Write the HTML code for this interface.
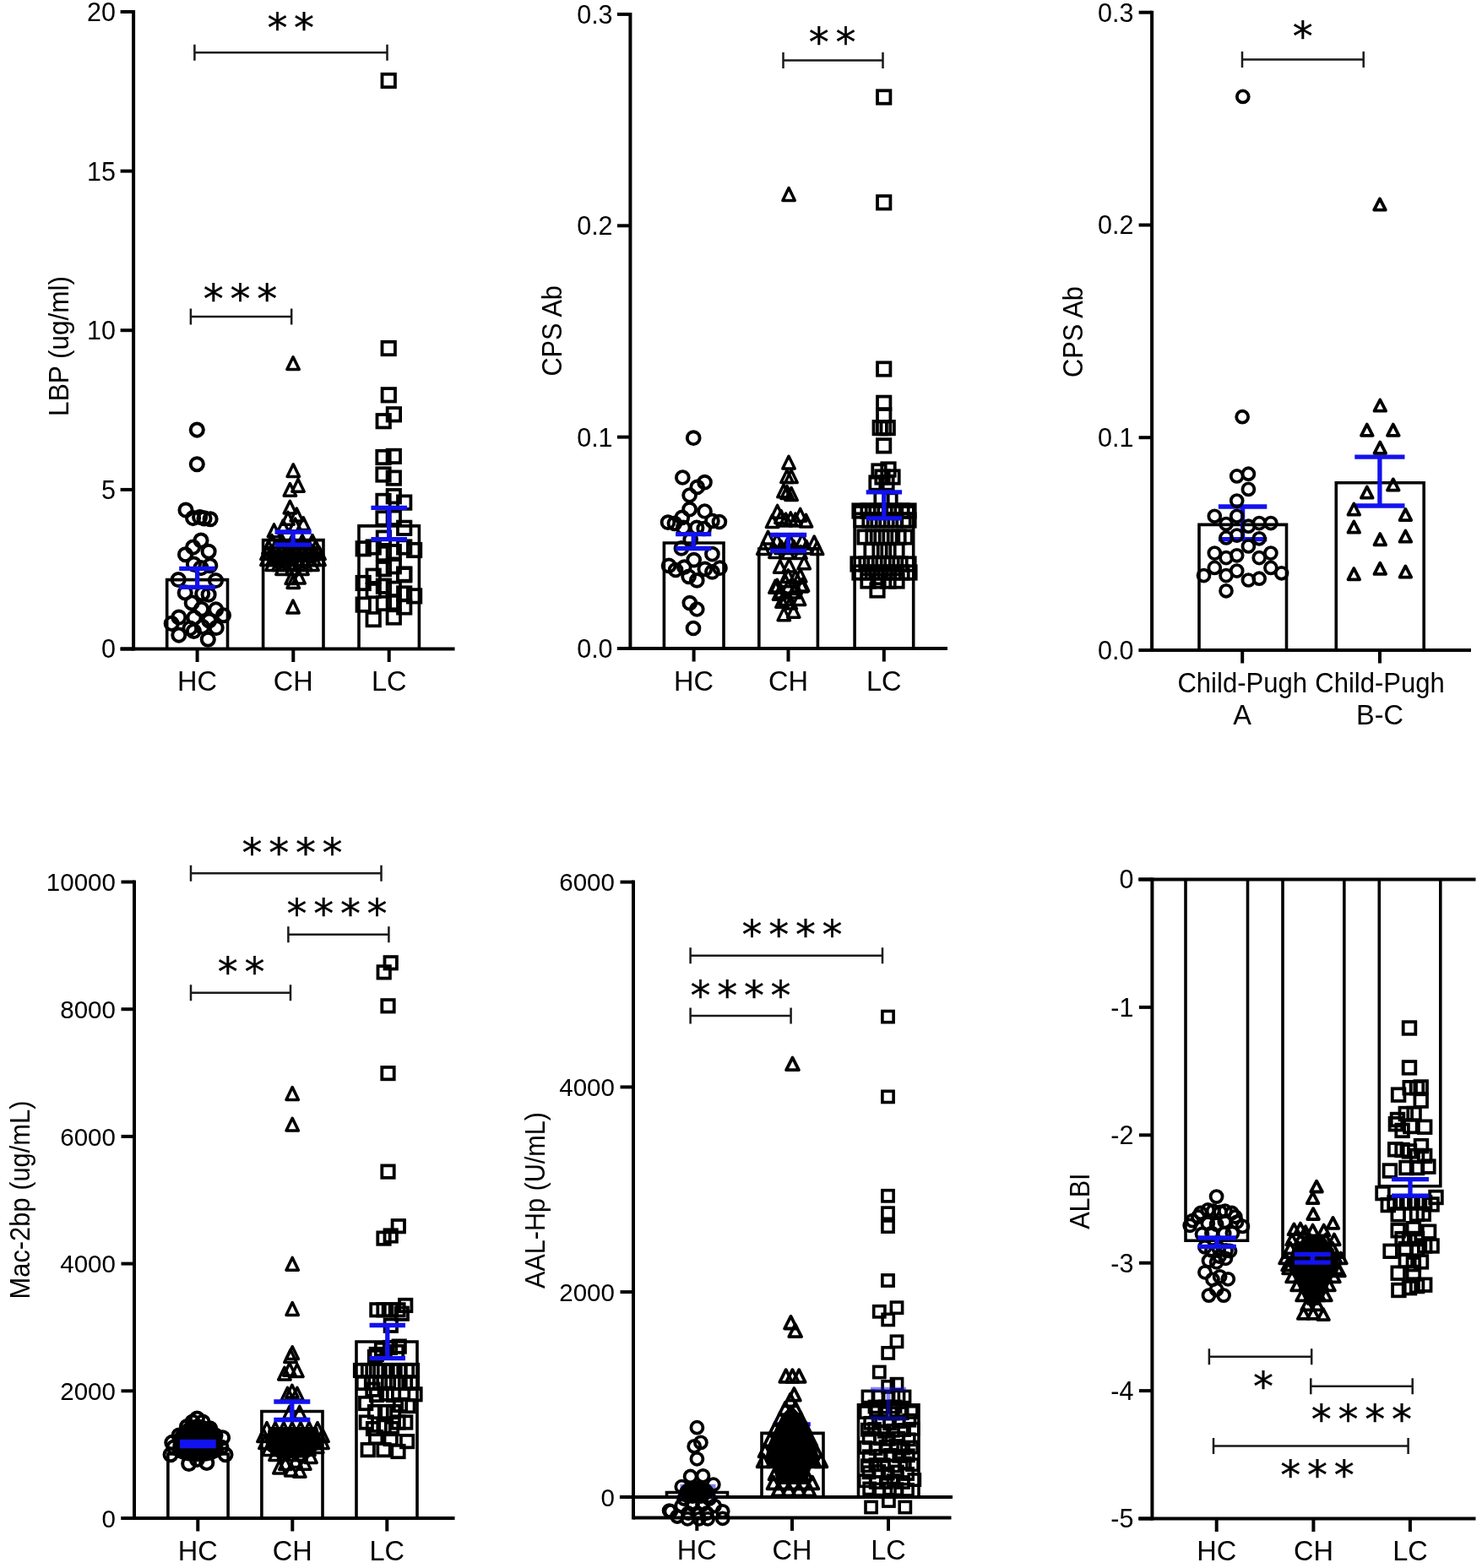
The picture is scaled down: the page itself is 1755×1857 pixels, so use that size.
<!DOCTYPE html>
<html><head><meta charset="utf-8"><title>Figure</title>
<style>
html,body{margin:0;padding:0;background:#fff;}
svg{display:block;}
text{font-family:'Liberation Sans', Arial, sans-serif;fill:#000;}
.mk circle,.mk path,.mk rect{fill:none;stroke:#000;stroke-linejoin:round;}
.mk rect{stroke-linejoin:miter;}
.st{stroke:#000;stroke-width:0.3;}
</style></head><body>
<svg xmlns="http://www.w3.org/2000/svg" width="1755" height="1857" viewBox="0 0 1755 1857">
<rect width="1755" height="1857" fill="#fff"/>
<path d="M158.1 12.0V770.5" stroke="#000" stroke-width="4.0" fill="none"/>
<line x1="142.6" y1="768.5" x2="158.1" y2="768.5" stroke="#000" stroke-width="4.0" stroke-linecap="butt"/>
<text x="136.9" y="779.4" font-size="30.5" text-anchor="end">0</text>
<line x1="142.6" y1="579.9" x2="158.1" y2="579.9" stroke="#000" stroke-width="4.0" stroke-linecap="butt"/>
<text x="136.9" y="590.8" font-size="30.5" text-anchor="end">5</text>
<line x1="142.6" y1="391.2" x2="158.1" y2="391.2" stroke="#000" stroke-width="4.0" stroke-linecap="butt"/>
<text x="136.9" y="402.2" font-size="30.5" text-anchor="end">10</text>
<line x1="142.6" y1="202.6" x2="158.1" y2="202.6" stroke="#000" stroke-width="4.0" stroke-linecap="butt"/>
<text x="136.9" y="213.5" font-size="30.5" text-anchor="end">15</text>
<line x1="142.6" y1="14.0" x2="158.1" y2="14.0" stroke="#000" stroke-width="4.0" stroke-linecap="butt"/>
<text x="136.9" y="24.9" font-size="30.5" text-anchor="end">20</text>
<line x1="142.6" y1="768.5" x2="538.5" y2="768.5" stroke="#000" stroke-width="4.0" stroke-linecap="butt"/>
<path d="M197.7 768.5V686.6H269.5V768.5" stroke="#000" stroke-width="3.6" fill="none" stroke-linejoin="miter"/>
<path d="M311.6 768.5V639.6H383.0V768.5" stroke="#000" stroke-width="3.6" fill="none" stroke-linejoin="miter"/>
<path d="M425.0 768.5V622.9H496.4V768.5" stroke="#000" stroke-width="3.6" fill="none" stroke-linejoin="miter"/>
<line x1="233.6" y1="768.5" x2="233.6" y2="784.0" stroke="#000" stroke-width="4.0" stroke-linecap="butt"/>
<text x="233.6" y="818.0" font-size="32.5" text-anchor="middle">HC</text>
<line x1="347.3" y1="768.5" x2="347.3" y2="784.0" stroke="#000" stroke-width="4.0" stroke-linecap="butt"/>
<text x="347.3" y="818.0" font-size="32.5" text-anchor="middle">CH</text>
<line x1="460.7" y1="768.5" x2="460.7" y2="784.0" stroke="#000" stroke-width="4.0" stroke-linecap="butt"/>
<text x="460.7" y="818.0" font-size="32.5" text-anchor="middle">LC</text>
<text x="80.6" y="409.9" font-size="32.5" text-anchor="middle" transform="rotate(-90 80.6 409.9)" textLength="166" lengthAdjust="spacingAndGlyphs">LBP (ug/ml)</text>
<path d="M230.4 52.7V71.7M230.4 62.2H458.5M458.5 52.7V71.7" stroke="#1a1a1a" stroke-width="2.5" fill="none"/>
<text x="348.1" y="49.5" font-size="48" text-anchor="middle" style="font-family:'DejaVu Sans', sans-serif" letter-spacing="7.7" class="st">**</text>
<path d="M225.9 365.4V384.4M225.9 374.9H345.2M345.2 365.4V384.4" stroke="#1a1a1a" stroke-width="2.5" fill="none"/>
<text x="288.4" y="370.5" font-size="48" text-anchor="middle" style="font-family:'DejaVu Sans', sans-serif" letter-spacing="7.7" class="st">***</text>
<path d="M746.4 14.9V770.0" stroke="#000" stroke-width="4.0" fill="none"/>
<line x1="730.9" y1="768.0" x2="746.4" y2="768.0" stroke="#000" stroke-width="4.0" stroke-linecap="butt"/>
<text x="725.6" y="778.9" font-size="30.5" text-anchor="end">0.0</text>
<line x1="730.9" y1="517.6" x2="746.4" y2="517.6" stroke="#000" stroke-width="4.0" stroke-linecap="butt"/>
<text x="725.6" y="528.6" font-size="30.5" text-anchor="end">0.1</text>
<line x1="730.9" y1="267.3" x2="746.4" y2="267.3" stroke="#000" stroke-width="4.0" stroke-linecap="butt"/>
<text x="725.6" y="278.2" font-size="30.5" text-anchor="end">0.2</text>
<line x1="730.9" y1="16.9" x2="746.4" y2="16.9" stroke="#000" stroke-width="4.0" stroke-linecap="butt"/>
<text x="725.6" y="27.8" font-size="30.5" text-anchor="end">0.3</text>
<line x1="730.9" y1="768.0" x2="1122.0" y2="768.0" stroke="#000" stroke-width="4.0" stroke-linecap="butt"/>
<path d="M786.4 768.0V643.0H857.0V768.0" stroke="#000" stroke-width="3.6" fill="none" stroke-linejoin="miter"/>
<path d="M898.8 768.0V650.0H968.4V768.0" stroke="#000" stroke-width="3.6" fill="none" stroke-linejoin="miter"/>
<path d="M1012.1 768.0V600.2H1081.7V768.0" stroke="#000" stroke-width="3.6" fill="none" stroke-linejoin="miter"/>
<line x1="821.6" y1="768.0" x2="821.6" y2="783.5" stroke="#000" stroke-width="4.0" stroke-linecap="butt"/>
<text x="821.6" y="817.5" font-size="32.5" text-anchor="middle">HC</text>
<line x1="933.5" y1="768.0" x2="933.5" y2="783.5" stroke="#000" stroke-width="4.0" stroke-linecap="butt"/>
<text x="933.5" y="817.5" font-size="32.5" text-anchor="middle">CH</text>
<line x1="1046.8" y1="768.0" x2="1046.8" y2="783.5" stroke="#000" stroke-width="4.0" stroke-linecap="butt"/>
<text x="1046.8" y="817.5" font-size="32.5" text-anchor="middle">LC</text>
<text x="664.7" y="391.8" font-size="32.5" text-anchor="middle" transform="rotate(-90 664.7 391.8)" textLength="107.5" lengthAdjust="spacingAndGlyphs">CPS Ab</text>
<path d="M927.5 62.0V81.0M927.5 71.5H1045.5M1045.5 62.0V81.0" stroke="#1a1a1a" stroke-width="2.5" fill="none"/>
<text x="989.4" y="67.0" font-size="48" text-anchor="middle" style="font-family:'DejaVu Sans', sans-serif" letter-spacing="7.7" class="st">**</text>
<path d="M1364.1 12.7V772.0" stroke="#000" stroke-width="4.0" fill="none"/>
<line x1="1348.6" y1="770.0" x2="1364.1" y2="770.0" stroke="#000" stroke-width="4.0" stroke-linecap="butt"/>
<text x="1342.4" y="780.9" font-size="30.5" text-anchor="end">0.0</text>
<line x1="1348.6" y1="518.2" x2="1364.1" y2="518.2" stroke="#000" stroke-width="4.0" stroke-linecap="butt"/>
<text x="1342.4" y="529.2" font-size="30.5" text-anchor="end">0.1</text>
<line x1="1348.6" y1="266.5" x2="1364.1" y2="266.5" stroke="#000" stroke-width="4.0" stroke-linecap="butt"/>
<text x="1342.4" y="277.4" font-size="30.5" text-anchor="end">0.2</text>
<line x1="1348.6" y1="14.7" x2="1364.1" y2="14.7" stroke="#000" stroke-width="4.0" stroke-linecap="butt"/>
<text x="1342.4" y="25.6" font-size="30.5" text-anchor="end">0.3</text>
<line x1="1348.6" y1="770.0" x2="1742.0" y2="770.0" stroke="#000" stroke-width="4.0" stroke-linecap="butt"/>
<path d="M1420.0 770.0V621.4H1523.5V770.0" stroke="#000" stroke-width="3.6" fill="none" stroke-linejoin="miter"/>
<path d="M1582.3 770.0V571.7H1686.2V770.0" stroke="#000" stroke-width="3.6" fill="none" stroke-linejoin="miter"/>
<line x1="1471.2" y1="770.0" x2="1471.2" y2="785.5" stroke="#000" stroke-width="4.0" stroke-linecap="butt"/>
<text x="1471.2" y="819.5" font-size="32.5" text-anchor="middle" textLength="153.5" lengthAdjust="spacingAndGlyphs">Child-Pugh</text>
<text x="1471.2" y="858.0" font-size="32.5" text-anchor="middle">A</text>
<line x1="1634.0" y1="770.0" x2="1634.0" y2="785.5" stroke="#000" stroke-width="4.0" stroke-linecap="butt"/>
<text x="1634.0" y="819.5" font-size="32.5" text-anchor="middle" textLength="153.5" lengthAdjust="spacingAndGlyphs">Child-Pugh</text>
<text x="1634.0" y="858.0" font-size="32.5" text-anchor="middle">B-C</text>
<text x="1282.3" y="393.1" font-size="32.5" text-anchor="middle" transform="rotate(-90 1282.3 393.1)" textLength="108" lengthAdjust="spacingAndGlyphs">CPS Ab</text>
<path d="M1471.0 60.9V79.9M1471.0 70.4H1614.7M1614.7 60.9V79.9" stroke="#1a1a1a" stroke-width="2.5" fill="none"/>
<text x="1546.6" y="59.5" font-size="48" text-anchor="middle" style="font-family:'DejaVu Sans', sans-serif" letter-spacing="7.7" class="st">*</text>
<path d="M159.0 1042.5V1800.0" stroke="#000" stroke-width="4.0" fill="none"/>
<line x1="143.5" y1="1798.0" x2="159.0" y2="1798.0" stroke="#000" stroke-width="4.0" stroke-linecap="butt"/>
<text x="136.9" y="1808.6" font-size="29.5" text-anchor="end">0</text>
<line x1="143.5" y1="1647.3" x2="159.0" y2="1647.3" stroke="#000" stroke-width="4.0" stroke-linecap="butt"/>
<text x="136.9" y="1657.9" font-size="29.5" text-anchor="end">2000</text>
<line x1="143.5" y1="1496.6" x2="159.0" y2="1496.6" stroke="#000" stroke-width="4.0" stroke-linecap="butt"/>
<text x="136.9" y="1507.2" font-size="29.5" text-anchor="end">4000</text>
<line x1="143.5" y1="1345.9" x2="159.0" y2="1345.9" stroke="#000" stroke-width="4.0" stroke-linecap="butt"/>
<text x="136.9" y="1356.5" font-size="29.5" text-anchor="end">6000</text>
<line x1="143.5" y1="1195.2" x2="159.0" y2="1195.2" stroke="#000" stroke-width="4.0" stroke-linecap="butt"/>
<text x="136.9" y="1205.8" font-size="29.5" text-anchor="end">8000</text>
<line x1="143.5" y1="1044.5" x2="159.0" y2="1044.5" stroke="#000" stroke-width="4.0" stroke-linecap="butt"/>
<text x="136.9" y="1055.1" font-size="29.5" text-anchor="end">10000</text>
<line x1="143.5" y1="1798.0" x2="538.5" y2="1798.0" stroke="#000" stroke-width="4.0" stroke-linecap="butt"/>
<path d="M198.9 1798.0V1722.0H270.1V1798.0" stroke="#000" stroke-width="3.6" fill="none" stroke-linejoin="miter"/>
<path d="M309.9 1798.0V1671.5H382.0V1798.0" stroke="#000" stroke-width="3.6" fill="none" stroke-linejoin="miter"/>
<path d="M422.0 1798.0V1589.0H494.0V1798.0" stroke="#000" stroke-width="3.6" fill="none" stroke-linejoin="miter"/>
<line x1="234.3" y1="1798.0" x2="234.3" y2="1813.5" stroke="#000" stroke-width="4.0" stroke-linecap="butt"/>
<text x="234.3" y="1847.5" font-size="32.5" text-anchor="middle">HC</text>
<line x1="346.3" y1="1798.0" x2="346.3" y2="1813.5" stroke="#000" stroke-width="4.0" stroke-linecap="butt"/>
<text x="346.3" y="1847.5" font-size="32.5" text-anchor="middle">CH</text>
<line x1="458.3" y1="1798.0" x2="458.3" y2="1813.5" stroke="#000" stroke-width="4.0" stroke-linecap="butt"/>
<text x="458.3" y="1847.5" font-size="32.5" text-anchor="middle">LC</text>
<text x="35.4" y="1421.0" font-size="32.5" text-anchor="middle" transform="rotate(-90 35.4 1421.0)" textLength="235" lengthAdjust="spacingAndGlyphs">Mac-2bp (ug/mL)</text>
<path d="M226.0 1024.8V1043.8M226.0 1034.3H451.5M451.5 1024.8V1043.8" stroke="#1a1a1a" stroke-width="2.5" fill="none"/>
<text x="349.9" y="1027.0" font-size="48" text-anchor="middle" style="font-family:'DejaVu Sans', sans-serif" letter-spacing="7.7" class="st">****</text>
<path d="M341.4 1097.3V1116.3M341.4 1106.8H460.4M460.4 1097.3V1116.3" stroke="#1a1a1a" stroke-width="2.5" fill="none"/>
<text x="402.9" y="1099.0" font-size="48" text-anchor="middle" style="font-family:'DejaVu Sans', sans-serif" letter-spacing="7.7" class="st">****</text>
<path d="M226.0 1166.2V1185.2M226.0 1175.7H344.0M344.0 1166.2V1185.2" stroke="#1a1a1a" stroke-width="2.5" fill="none"/>
<text x="289.5" y="1167.5" font-size="48" text-anchor="middle" style="font-family:'DejaVu Sans', sans-serif" letter-spacing="7.7" class="st">**</text>
<path d="M750.0 1042.6V1799.4" stroke="#000" stroke-width="4.0" fill="none"/>
<line x1="734.5" y1="1772.9" x2="750.0" y2="1772.9" stroke="#000" stroke-width="4.0" stroke-linecap="butt"/>
<text x="727.9" y="1783.5" font-size="29.5" text-anchor="end">0</text>
<line x1="734.5" y1="1530.1" x2="750.0" y2="1530.1" stroke="#000" stroke-width="4.0" stroke-linecap="butt"/>
<text x="727.9" y="1540.7" font-size="29.5" text-anchor="end">2000</text>
<line x1="734.5" y1="1287.4" x2="750.0" y2="1287.4" stroke="#000" stroke-width="4.0" stroke-linecap="butt"/>
<text x="727.9" y="1297.9" font-size="29.5" text-anchor="end">4000</text>
<line x1="734.5" y1="1044.6" x2="750.0" y2="1044.6" stroke="#000" stroke-width="4.0" stroke-linecap="butt"/>
<text x="727.9" y="1055.2" font-size="29.5" text-anchor="end">6000</text>
<line x1="733.9" y1="1772.9" x2="1128.0" y2="1772.9" stroke="#000" stroke-width="4.0" stroke-linecap="butt"/>
<line x1="750.0" y1="1797.4" x2="1126.5" y2="1797.4" stroke="#000" stroke-width="4.0" stroke-linecap="butt"/>
<path d="M789.5 1772.9V1767.5H861.5V1772.9" stroke="#000" stroke-width="3.6" fill="none" stroke-linejoin="miter"/>
<path d="M902.0 1772.9V1697.4H975.0V1772.9" stroke="#000" stroke-width="3.6" fill="none" stroke-linejoin="miter"/>
<path d="M1016.5 1772.9V1663.9H1088.0V1772.9" stroke="#000" stroke-width="3.6" fill="none" stroke-linejoin="miter"/>
<line x1="825.3" y1="1797.4" x2="825.3" y2="1812.9" stroke="#000" stroke-width="4.0" stroke-linecap="butt"/>
<text x="825.3" y="1846.9" font-size="32.5" text-anchor="middle">HC</text>
<line x1="938.0" y1="1797.4" x2="938.0" y2="1812.9" stroke="#000" stroke-width="4.0" stroke-linecap="butt"/>
<text x="938.0" y="1846.9" font-size="32.5" text-anchor="middle">CH</text>
<line x1="1052.0" y1="1797.4" x2="1052.0" y2="1812.9" stroke="#000" stroke-width="4.0" stroke-linecap="butt"/>
<text x="1052.0" y="1846.9" font-size="32.5" text-anchor="middle">LC</text>
<text x="644.9" y="1421.5" font-size="32.5" text-anchor="middle" transform="rotate(-90 644.9 1421.5)" textLength="209" lengthAdjust="spacingAndGlyphs">AAL-Hp (U/mL)</text>
<path d="M817.6 1122.2V1141.2M817.6 1131.7H1045.0M1045.0 1122.2V1141.2" stroke="#1a1a1a" stroke-width="2.5" fill="none"/>
<text x="941.9" y="1124.0" font-size="48" text-anchor="middle" style="font-family:'DejaVu Sans', sans-serif" letter-spacing="7.7" class="st">****</text>
<path d="M817.6 1193.5V1212.5M817.6 1203.0H936.6M936.6 1193.5V1212.5" stroke="#1a1a1a" stroke-width="2.5" fill="none"/>
<text x="880.9" y="1196.0" font-size="48" text-anchor="middle" style="font-family:'DejaVu Sans', sans-serif" letter-spacing="7.7" class="st">****</text>
<path d="M1364.4 1039.5V1800.5" stroke="#000" stroke-width="4.0" fill="none"/>
<line x1="1348.9" y1="1041.5" x2="1364.4" y2="1041.5" stroke="#000" stroke-width="4.0" stroke-linecap="butt"/>
<text x="1342.4" y="1052.4" font-size="30.5" text-anchor="end">0</text>
<line x1="1348.9" y1="1192.9" x2="1364.4" y2="1192.9" stroke="#000" stroke-width="4.0" stroke-linecap="butt"/>
<text x="1342.4" y="1203.8" font-size="30.5" text-anchor="end">-1</text>
<line x1="1348.9" y1="1344.3" x2="1364.4" y2="1344.3" stroke="#000" stroke-width="4.0" stroke-linecap="butt"/>
<text x="1342.4" y="1355.2" font-size="30.5" text-anchor="end">-2</text>
<line x1="1348.9" y1="1495.7" x2="1364.4" y2="1495.7" stroke="#000" stroke-width="4.0" stroke-linecap="butt"/>
<text x="1342.4" y="1506.6" font-size="30.5" text-anchor="end">-3</text>
<line x1="1348.9" y1="1647.1" x2="1364.4" y2="1647.1" stroke="#000" stroke-width="4.0" stroke-linecap="butt"/>
<text x="1342.4" y="1658.0" font-size="30.5" text-anchor="end">-4</text>
<line x1="1348.9" y1="1798.5" x2="1364.4" y2="1798.5" stroke="#000" stroke-width="4.0" stroke-linecap="butt"/>
<text x="1342.4" y="1809.4" font-size="30.5" text-anchor="end">-5</text>
<line x1="1348.1" y1="1041.5" x2="1747.5" y2="1041.5" stroke="#000" stroke-width="4.0" stroke-linecap="butt"/>
<line x1="1348.1" y1="1798.5" x2="1747.5" y2="1798.5" stroke="#000" stroke-width="4.0" stroke-linecap="butt"/>
<g class="mk">
<circle cx="233.3" cy="509.1" r="7.55" stroke-width="4.0"/>
<circle cx="233.3" cy="549.7" r="7.55" stroke-width="4.0"/>
<circle cx="220.0" cy="604.0" r="7.55" stroke-width="4.0"/>
<circle cx="228.6" cy="613.6" r="7.55" stroke-width="4.0"/>
<circle cx="236.6" cy="612.5" r="7.55" stroke-width="4.0"/>
<circle cx="242.0" cy="613.9" r="7.55" stroke-width="4.0"/>
<circle cx="249.1" cy="614.8" r="7.55" stroke-width="4.0"/>
<circle cx="238.0" cy="640.1" r="7.55" stroke-width="4.0"/>
<circle cx="228.6" cy="648.1" r="7.55" stroke-width="4.0"/>
<circle cx="247.1" cy="653.2" r="7.55" stroke-width="4.0"/>
<circle cx="219.5" cy="656.7" r="7.55" stroke-width="4.0"/>
<circle cx="229.4" cy="668.1" r="7.55" stroke-width="4.0"/>
<circle cx="248.8" cy="669.8" r="7.55" stroke-width="4.0"/>
<circle cx="238.0" cy="672.6" r="7.55" stroke-width="4.0"/>
<circle cx="211.2" cy="686.5" r="7.55" stroke-width="4.0"/>
<circle cx="255.5" cy="687.5" r="7.55" stroke-width="4.0"/>
<circle cx="219.2" cy="701.9" r="7.55" stroke-width="4.0"/>
<circle cx="247.1" cy="704.2" r="7.55" stroke-width="4.0"/>
<circle cx="239.7" cy="703.0" r="7.55" stroke-width="4.0"/>
<circle cx="227.2" cy="713.9" r="7.55" stroke-width="4.0"/>
<circle cx="238.6" cy="721.3" r="7.55" stroke-width="4.0"/>
<circle cx="255.7" cy="721.9" r="7.55" stroke-width="4.0"/>
<circle cx="264.5" cy="728.7" r="7.55" stroke-width="4.0"/>
<circle cx="211.8" cy="731.0" r="7.55" stroke-width="4.0"/>
<circle cx="230.0" cy="731.5" r="7.55" stroke-width="4.0"/>
<circle cx="247.7" cy="735.0" r="7.55" stroke-width="4.0"/>
<circle cx="203.2" cy="738.4" r="7.55" stroke-width="4.0"/>
<circle cx="229.4" cy="747.5" r="7.55" stroke-width="4.0"/>
<circle cx="256.2" cy="743.5" r="7.55" stroke-width="4.0"/>
<circle cx="211.8" cy="752.1" r="7.55" stroke-width="4.0"/>
<circle cx="246.3" cy="757.2" r="7.55" stroke-width="4.0"/>
<circle cx="239.7" cy="742.4" r="7.55" stroke-width="4.0"/>
<circle cx="224.9" cy="744.1" r="7.55" stroke-width="4.0"/>
</g>
<g class="mk">
<path d="M347.1 422.7L354.3 437.5L339.9 437.5Z" stroke-width="3.5"/>
<path d="M347.3 549.7L354.5 564.5L340.1 564.5Z" stroke-width="3.5"/>
<path d="M353.0 567.4L360.2 582.2L345.8 582.2Z" stroke-width="3.5"/>
<path d="M343.4 572.5L350.6 587.3L336.2 587.3Z" stroke-width="3.5"/>
<path d="M343.4 593.3L350.6 608.1L336.2 608.1Z" stroke-width="3.5"/>
<path d="M351.3 602.1L358.5 616.9L344.1 616.9Z" stroke-width="3.5"/>
<path d="M359.3 612.7L366.5 627.5L352.1 627.5Z" stroke-width="3.5"/>
<path d="M341.0 606.4L348.2 621.2L333.8 621.2Z" stroke-width="3.5"/>
<path d="M335.3 616.1L342.5 630.9L328.1 630.9Z" stroke-width="3.5"/>
<path d="M324.5 620.9L331.7 635.7L317.3 635.7Z" stroke-width="3.5"/>
<path d="M349.6 614.1L356.8 628.9L342.4 628.9Z" stroke-width="3.5"/>
<path d="M345.3 676.7L352.5 691.5L338.1 691.5Z" stroke-width="3.5"/>
<path d="M347.3 681.6L354.5 696.4L340.1 696.4Z" stroke-width="3.5"/>
<path d="M354.1 676.1L361.3 690.9L346.9 690.9Z" stroke-width="3.5"/>
<path d="M347.0 711.1L354.2 725.9L339.8 725.9Z" stroke-width="3.5"/>
<path d="M322.0 633.6L329.2 648.4L314.8 648.4Z" stroke-width="3.5"/>
<path d="M334.0 633.6L341.2 648.4L326.8 648.4Z" stroke-width="3.5"/>
<path d="M346.0 633.6L353.2 648.4L338.8 648.4Z" stroke-width="3.5"/>
<path d="M358.0 633.6L365.2 648.4L350.8 648.4Z" stroke-width="3.5"/>
<path d="M370.0 633.6L377.2 648.4L362.8 648.4Z" stroke-width="3.5"/>
<path d="M318.0 640.6L325.2 655.4L310.8 655.4Z" stroke-width="3.5"/>
<path d="M326.0 640.6L333.2 655.4L318.8 655.4Z" stroke-width="3.5"/>
<path d="M334.0 640.6L341.2 655.4L326.8 655.4Z" stroke-width="3.5"/>
<path d="M342.0 640.6L349.2 655.4L334.8 655.4Z" stroke-width="3.5"/>
<path d="M350.0 640.6L357.2 655.4L342.8 655.4Z" stroke-width="3.5"/>
<path d="M358.0 640.6L365.2 655.4L350.8 655.4Z" stroke-width="3.5"/>
<path d="M366.0 640.6L373.2 655.4L358.8 655.4Z" stroke-width="3.5"/>
<path d="M374.0 640.6L381.2 655.4L366.8 655.4Z" stroke-width="3.5"/>
<path d="M316.0 647.6L323.2 662.4L308.8 662.4Z" stroke-width="3.5"/>
<path d="M323.0 647.6L330.2 662.4L315.8 662.4Z" stroke-width="3.5"/>
<path d="M330.0 647.6L337.2 662.4L322.8 662.4Z" stroke-width="3.5"/>
<path d="M337.0 647.6L344.2 662.4L329.8 662.4Z" stroke-width="3.5"/>
<path d="M344.0 647.6L351.2 662.4L336.8 662.4Z" stroke-width="3.5"/>
<path d="M351.0 647.6L358.2 662.4L343.8 662.4Z" stroke-width="3.5"/>
<path d="M358.0 647.6L365.2 662.4L350.8 662.4Z" stroke-width="3.5"/>
<path d="M365.0 647.6L372.2 662.4L357.8 662.4Z" stroke-width="3.5"/>
<path d="M372.0 647.6L379.2 662.4L364.8 662.4Z" stroke-width="3.5"/>
<path d="M378.0 647.6L385.2 662.4L370.8 662.4Z" stroke-width="3.5"/>
<path d="M316.0 654.6L323.2 669.4L308.8 669.4Z" stroke-width="3.5"/>
<path d="M323.0 654.6L330.2 669.4L315.8 669.4Z" stroke-width="3.5"/>
<path d="M330.0 654.6L337.2 669.4L322.8 669.4Z" stroke-width="3.5"/>
<path d="M337.0 654.6L344.2 669.4L329.8 669.4Z" stroke-width="3.5"/>
<path d="M344.0 654.6L351.2 669.4L336.8 669.4Z" stroke-width="3.5"/>
<path d="M351.0 654.6L358.2 669.4L343.8 669.4Z" stroke-width="3.5"/>
<path d="M358.0 654.6L365.2 669.4L350.8 669.4Z" stroke-width="3.5"/>
<path d="M365.0 654.6L372.2 669.4L357.8 669.4Z" stroke-width="3.5"/>
<path d="M372.0 654.6L379.2 669.4L364.8 669.4Z" stroke-width="3.5"/>
<path d="M378.0 654.6L385.2 669.4L370.8 669.4Z" stroke-width="3.5"/>
<path d="M322.0 660.6L329.2 675.4L314.8 675.4Z" stroke-width="3.5"/>
<path d="M330.0 660.6L337.2 675.4L322.8 675.4Z" stroke-width="3.5"/>
<path d="M338.0 660.6L345.2 675.4L330.8 675.4Z" stroke-width="3.5"/>
<path d="M346.0 660.6L353.2 675.4L338.8 675.4Z" stroke-width="3.5"/>
<path d="M354.0 660.6L361.2 675.4L346.8 675.4Z" stroke-width="3.5"/>
<path d="M362.0 660.6L369.2 675.4L354.8 675.4Z" stroke-width="3.5"/>
<path d="M370.0 660.6L377.2 675.4L362.8 675.4Z" stroke-width="3.5"/>
<path d="M334.0 665.6L341.2 680.4L326.8 680.4Z" stroke-width="3.5"/>
<path d="M346.0 665.6L353.2 680.4L338.8 680.4Z" stroke-width="3.5"/>
<path d="M358.0 665.6L365.2 680.4L350.8 680.4Z" stroke-width="3.5"/>
</g>
<g class="mk">
<rect x="452.5" y="87.8" width="15.4" height="15.4" stroke-width="3.8"/>
<rect x="452.5" y="404.8" width="15.4" height="15.4" stroke-width="3.8"/>
<rect x="452.6" y="460.1" width="15.4" height="15.4" stroke-width="3.8"/>
<rect x="458.7" y="483.1" width="15.4" height="15.4" stroke-width="3.8"/>
<rect x="446.5" y="491.0" width="15.4" height="15.4" stroke-width="3.8"/>
<rect x="446.3" y="533.8" width="15.4" height="15.4" stroke-width="3.8"/>
<rect x="458.6" y="532.7" width="15.4" height="15.4" stroke-width="3.8"/>
<rect x="446.3" y="554.3" width="15.4" height="15.4" stroke-width="3.8"/>
<rect x="458.6" y="558.4" width="15.4" height="15.4" stroke-width="3.8"/>
<rect x="458.6" y="580.0" width="15.4" height="15.4" stroke-width="3.8"/>
<rect x="446.3" y="585.7" width="15.4" height="15.4" stroke-width="3.8"/>
<rect x="471.0" y="587.4" width="15.4" height="15.4" stroke-width="3.8"/>
<rect x="446.3" y="606.2" width="15.4" height="15.4" stroke-width="3.8"/>
<rect x="458.6" y="605.6" width="15.4" height="15.4" stroke-width="3.8"/>
<rect x="471.0" y="617.6" width="15.4" height="15.4" stroke-width="3.8"/>
<rect x="446.7" y="629.5" width="15.4" height="15.4" stroke-width="3.8"/>
<rect x="422.5" y="642.1" width="15.4" height="15.4" stroke-width="3.8"/>
<rect x="434.5" y="640.3" width="15.4" height="15.4" stroke-width="3.8"/>
<rect x="482.9" y="643.8" width="15.4" height="15.4" stroke-width="3.8"/>
<rect x="471.0" y="640.3" width="15.4" height="15.4" stroke-width="3.8"/>
<rect x="446.7" y="647.8" width="15.4" height="15.4" stroke-width="3.8"/>
<rect x="458.6" y="646.0" width="15.4" height="15.4" stroke-width="3.8"/>
<rect x="446.7" y="666.0" width="15.4" height="15.4" stroke-width="3.8"/>
<rect x="458.6" y="663.1" width="15.4" height="15.4" stroke-width="3.8"/>
<rect x="434.5" y="674.5" width="15.4" height="15.4" stroke-width="3.8"/>
<rect x="471.0" y="673.1" width="15.4" height="15.4" stroke-width="3.8"/>
<rect x="422.5" y="682.8" width="15.4" height="15.4" stroke-width="3.8"/>
<rect x="446.7" y="686.5" width="15.4" height="15.4" stroke-width="3.8"/>
<rect x="458.6" y="689.6" width="15.4" height="15.4" stroke-width="3.8"/>
<rect x="471.0" y="695.3" width="15.4" height="15.4" stroke-width="3.8"/>
<rect x="482.9" y="698.2" width="15.4" height="15.4" stroke-width="3.8"/>
<rect x="434.5" y="691.9" width="15.4" height="15.4" stroke-width="3.8"/>
<rect x="422.5" y="708.4" width="15.4" height="15.4" stroke-width="3.8"/>
<rect x="434.5" y="725.9" width="15.4" height="15.4" stroke-width="3.8"/>
<rect x="458.6" y="723.3" width="15.4" height="15.4" stroke-width="3.8"/>
<rect x="471.0" y="711.3" width="15.4" height="15.4" stroke-width="3.8"/>
<rect x="446.7" y="706.8" width="15.4" height="15.4" stroke-width="3.8"/>
<rect x="458.6" y="705.9" width="15.4" height="15.4" stroke-width="3.8"/>
<rect x="471.0" y="672.3" width="15.4" height="15.4" stroke-width="3.8"/>
</g>
<path d="M212.2 673.4H255.0M233.6 673.4V695.3M212.2 695.3H255.0" stroke="#1212ee" stroke-width="5.3" fill="none"/>
<path d="M325.5 630.0H368.7M347.1 630.0V645.2M325.5 645.2H368.7" stroke="#1212ee" stroke-width="5.3" fill="none"/>
<path d="M439.4 601.3H482.0M460.7 601.3V638.6M439.4 638.6H482.0" stroke="#1212ee" stroke-width="5.3" fill="none"/>
<g class="mk">
<circle cx="821.2" cy="518.7" r="7.4" stroke-width="3.9"/>
<circle cx="808.3" cy="565.5" r="7.4" stroke-width="3.9"/>
<circle cx="834.5" cy="571.2" r="7.4" stroke-width="3.9"/>
<circle cx="825.7" cy="576.9" r="7.4" stroke-width="3.9"/>
<circle cx="816.6" cy="586.5" r="7.4" stroke-width="3.9"/>
<circle cx="816.6" cy="603.2" r="7.4" stroke-width="3.9"/>
<circle cx="834.5" cy="605.5" r="7.4" stroke-width="3.9"/>
<circle cx="807.8" cy="612.9" r="7.4" stroke-width="3.9"/>
<circle cx="791.0" cy="618.6" r="7.4" stroke-width="3.9"/>
<circle cx="798.9" cy="619.8" r="7.4" stroke-width="3.9"/>
<circle cx="843.4" cy="616.9" r="7.4" stroke-width="3.9"/>
<circle cx="851.9" cy="618.0" r="7.4" stroke-width="3.9"/>
<circle cx="825.1" cy="624.9" r="7.4" stroke-width="3.9"/>
<circle cx="833.7" cy="626.0" r="7.4" stroke-width="3.9"/>
<circle cx="809.2" cy="624.9" r="7.4" stroke-width="3.9"/>
<circle cx="817.7" cy="639.1" r="7.4" stroke-width="3.9"/>
<circle cx="806.9" cy="649.4" r="7.4" stroke-width="3.9"/>
<circle cx="843.4" cy="656.2" r="7.4" stroke-width="3.9"/>
<circle cx="821.7" cy="663.1" r="7.4" stroke-width="3.9"/>
<circle cx="792.1" cy="669.9" r="7.4" stroke-width="3.9"/>
<circle cx="800.1" cy="675.0" r="7.4" stroke-width="3.9"/>
<circle cx="810.3" cy="671.6" r="7.4" stroke-width="3.9"/>
<circle cx="834.8" cy="673.9" r="7.4" stroke-width="3.9"/>
<circle cx="843.4" cy="677.3" r="7.4" stroke-width="3.9"/>
<circle cx="852.5" cy="672.7" r="7.4" stroke-width="3.9"/>
<circle cx="815.6" cy="682.8" r="7.4" stroke-width="3.9"/>
<circle cx="825.3" cy="687.4" r="7.4" stroke-width="3.9"/>
<circle cx="816.8" cy="714.1" r="7.4" stroke-width="3.9"/>
<circle cx="825.3" cy="721.5" r="7.4" stroke-width="3.9"/>
<circle cx="821.0" cy="744.0" r="7.4" stroke-width="3.9"/>
</g>
<g class="mk">
<path d="M934.1 222.6L941.3 237.4L926.9 237.4Z" stroke-width="3.5"/>
<path d="M934.0 540.3L941.2 555.1L926.8 555.1Z" stroke-width="3.5"/>
<path d="M932.0 556.8L939.2 571.6L924.8 571.6Z" stroke-width="3.5"/>
<path d="M937.0 556.8L944.2 571.6L929.8 571.6Z" stroke-width="3.5"/>
<path d="M928.0 573.9L935.2 588.7L920.8 588.7Z" stroke-width="3.5"/>
<path d="M937.1 577.6L944.3 592.4L929.9 592.4Z" stroke-width="3.5"/>
<path d="M932.0 575.6L939.2 590.4L924.8 590.4Z" stroke-width="3.5"/>
<path d="M920.6 598.4L927.8 613.2L913.4 613.2Z" stroke-width="3.5"/>
<path d="M914.6 609.8L921.8 624.6L907.4 624.6Z" stroke-width="3.5"/>
<path d="M947.7 602.4L954.9 617.2L940.5 617.2Z" stroke-width="3.5"/>
<path d="M954.5 609.2L961.7 624.0L947.3 624.0Z" stroke-width="3.5"/>
<path d="M930.6 608.1L937.8 622.9L923.4 622.9Z" stroke-width="3.5"/>
<path d="M936.3 606.9L943.5 621.7L929.1 621.7Z" stroke-width="3.5"/>
<path d="M942.0 608.1L949.2 622.9L934.8 622.9Z" stroke-width="3.5"/>
<path d="M925.0 604.6L932.2 619.4L917.8 619.4Z" stroke-width="3.5"/>
<path d="M909.5 629.3L916.7 644.1L902.3 644.1Z" stroke-width="3.5"/>
<path d="M903.8 641.8L911.0 656.6L896.6 656.6Z" stroke-width="3.5"/>
<path d="M964.2 635.0L971.4 649.8L957.0 649.8Z" stroke-width="3.5"/>
<path d="M967.6 641.8L974.8 656.6L960.4 656.6Z" stroke-width="3.5"/>
<path d="M920.0 632.6L927.2 647.4L912.8 647.4Z" stroke-width="3.5"/>
<path d="M935.0 632.6L942.2 647.4L927.8 647.4Z" stroke-width="3.5"/>
<path d="M950.0 632.6L957.2 647.4L942.8 647.4Z" stroke-width="3.5"/>
<path d="M925.0 640.6L932.2 655.4L917.8 655.4Z" stroke-width="3.5"/>
<path d="M940.0 640.6L947.2 655.4L932.8 655.4Z" stroke-width="3.5"/>
<path d="M955.0 640.6L962.2 655.4L947.8 655.4Z" stroke-width="3.5"/>
<path d="M918.0 645.6L925.2 660.4L910.8 660.4Z" stroke-width="3.5"/>
<path d="M933.0 646.6L940.2 661.4L925.8 661.4Z" stroke-width="3.5"/>
<path d="M948.0 646.6L955.2 661.4L940.8 661.4Z" stroke-width="3.5"/>
<path d="M952.2 658.9L959.4 673.7L945.0 673.7Z" stroke-width="3.5"/>
<path d="M923.7 663.4L930.9 678.2L916.5 678.2Z" stroke-width="3.5"/>
<path d="M934.6 662.3L941.8 677.1L927.4 677.1Z" stroke-width="3.5"/>
<path d="M947.7 674.3L954.9 689.1L940.5 689.1Z" stroke-width="3.5"/>
<path d="M933.4 674.8L940.6 689.6L926.2 689.6Z" stroke-width="3.5"/>
<path d="M920.3 686.2L927.5 701.0L913.1 701.0Z" stroke-width="3.5"/>
<path d="M949.4 686.2L956.6 701.0L942.2 701.0Z" stroke-width="3.5"/>
<path d="M933.4 687.4L940.6 702.2L926.2 702.2Z" stroke-width="3.5"/>
<path d="M924.9 693.1L932.1 707.9L917.7 707.9Z" stroke-width="3.5"/>
<path d="M940.8 693.1L948.0 707.9L933.6 707.9Z" stroke-width="3.5"/>
<path d="M930.6 701.6L937.8 716.4L923.4 716.4Z" stroke-width="3.5"/>
<path d="M946.5 701.6L953.7 716.4L939.3 716.4Z" stroke-width="3.5"/>
<path d="M928.3 719.9L935.5 734.7L921.1 734.7Z" stroke-width="3.5"/>
<path d="M939.7 716.5L946.9 731.3L932.5 731.3Z" stroke-width="3.5"/>
<path d="M936.3 706.2L943.5 721.0L929.1 721.0Z" stroke-width="3.5"/>
<path d="M926.0 704.5L933.2 719.3L918.8 719.3Z" stroke-width="3.5"/>
<path d="M922.6 695.4L929.8 710.2L915.4 710.2Z" stroke-width="3.5"/>
<path d="M918.0 687.4L925.2 702.2L910.8 702.2Z" stroke-width="3.5"/>
<path d="M950.5 685.1L957.7 699.9L943.3 699.9Z" stroke-width="3.5"/>
<path d="M942.0 688.6L949.2 703.4L934.8 703.4Z" stroke-width="3.5"/>
<path d="M929.4 680.0L936.6 694.8L922.2 694.8Z" stroke-width="3.5"/>
<path d="M942.0 676.0L949.2 690.8L934.8 690.8Z" stroke-width="3.5"/>
</g>
<g class="mk">
<rect x="1039.0" y="107.3" width="15.4" height="15.4" stroke-width="3.8"/>
<rect x="1039.0" y="232.1" width="15.4" height="15.4" stroke-width="3.8"/>
<rect x="1039.0" y="429.3" width="15.4" height="15.4" stroke-width="3.8"/>
<rect x="1039.0" y="469.6" width="15.4" height="15.4" stroke-width="3.8"/>
<rect x="1039.0" y="484.1" width="15.4" height="15.4" stroke-width="3.8"/>
<rect x="1034.5" y="498.9" width="15.4" height="15.4" stroke-width="3.8"/>
<rect x="1038.9" y="498.9" width="15.4" height="15.4" stroke-width="3.8"/>
<rect x="1043.5" y="498.9" width="15.4" height="15.4" stroke-width="3.8"/>
<rect x="1038.9" y="520.2" width="15.4" height="15.4" stroke-width="3.8"/>
<rect x="1033.3" y="550.3" width="15.4" height="15.4" stroke-width="3.8"/>
<rect x="1044.3" y="548.3" width="15.4" height="15.4" stroke-width="3.8"/>
<rect x="1037.3" y="557.3" width="15.4" height="15.4" stroke-width="3.8"/>
<rect x="1049.3" y="557.3" width="15.4" height="15.4" stroke-width="3.8"/>
<rect x="1030.3" y="564.3" width="15.4" height="15.4" stroke-width="3.8"/>
<rect x="1042.3" y="564.3" width="15.4" height="15.4" stroke-width="3.8"/>
<rect x="1036.3" y="582.3" width="15.4" height="15.4" stroke-width="3.8"/>
<rect x="1046.3" y="584.3" width="15.4" height="15.4" stroke-width="3.8"/>
<rect x="1010.3" y="597.3" width="15.4" height="15.4" stroke-width="3.8"/>
<rect x="1020.3" y="597.3" width="15.4" height="15.4" stroke-width="3.8"/>
<rect x="1030.3" y="597.3" width="15.4" height="15.4" stroke-width="3.8"/>
<rect x="1040.3" y="597.3" width="15.4" height="15.4" stroke-width="3.8"/>
<rect x="1050.3" y="597.3" width="15.4" height="15.4" stroke-width="3.8"/>
<rect x="1060.3" y="597.3" width="15.4" height="15.4" stroke-width="3.8"/>
<rect x="1068.3" y="597.3" width="15.4" height="15.4" stroke-width="3.8"/>
<rect x="1012.3" y="608.3" width="15.4" height="15.4" stroke-width="3.8"/>
<rect x="1022.3" y="608.3" width="15.4" height="15.4" stroke-width="3.8"/>
<rect x="1032.3" y="608.3" width="15.4" height="15.4" stroke-width="3.8"/>
<rect x="1042.3" y="608.3" width="15.4" height="15.4" stroke-width="3.8"/>
<rect x="1052.3" y="608.3" width="15.4" height="15.4" stroke-width="3.8"/>
<rect x="1062.3" y="608.3" width="15.4" height="15.4" stroke-width="3.8"/>
<rect x="1068.3" y="608.3" width="15.4" height="15.4" stroke-width="3.8"/>
<rect x="1016.3" y="628.3" width="15.4" height="15.4" stroke-width="3.8"/>
<rect x="1026.3" y="628.3" width="15.4" height="15.4" stroke-width="3.8"/>
<rect x="1036.3" y="628.3" width="15.4" height="15.4" stroke-width="3.8"/>
<rect x="1046.3" y="628.3" width="15.4" height="15.4" stroke-width="3.8"/>
<rect x="1056.3" y="628.3" width="15.4" height="15.4" stroke-width="3.8"/>
<rect x="1064.3" y="628.3" width="15.4" height="15.4" stroke-width="3.8"/>
<rect x="1024.3" y="644.3" width="15.4" height="15.4" stroke-width="3.8"/>
<rect x="1034.3" y="644.3" width="15.4" height="15.4" stroke-width="3.8"/>
<rect x="1044.3" y="644.3" width="15.4" height="15.4" stroke-width="3.8"/>
<rect x="1054.3" y="644.3" width="15.4" height="15.4" stroke-width="3.8"/>
<rect x="1008.3" y="660.3" width="15.4" height="15.4" stroke-width="3.8"/>
<rect x="1018.3" y="660.3" width="15.4" height="15.4" stroke-width="3.8"/>
<rect x="1028.3" y="660.3" width="15.4" height="15.4" stroke-width="3.8"/>
<rect x="1038.3" y="660.3" width="15.4" height="15.4" stroke-width="3.8"/>
<rect x="1048.3" y="660.3" width="15.4" height="15.4" stroke-width="3.8"/>
<rect x="1058.3" y="660.3" width="15.4" height="15.4" stroke-width="3.8"/>
<rect x="1068.3" y="660.3" width="15.4" height="15.4" stroke-width="3.8"/>
<rect x="1010.3" y="670.3" width="15.4" height="15.4" stroke-width="3.8"/>
<rect x="1020.3" y="670.3" width="15.4" height="15.4" stroke-width="3.8"/>
<rect x="1030.3" y="670.3" width="15.4" height="15.4" stroke-width="3.8"/>
<rect x="1040.3" y="670.3" width="15.4" height="15.4" stroke-width="3.8"/>
<rect x="1050.3" y="670.3" width="15.4" height="15.4" stroke-width="3.8"/>
<rect x="1060.3" y="670.3" width="15.4" height="15.4" stroke-width="3.8"/>
<rect x="1069.3" y="670.3" width="15.4" height="15.4" stroke-width="3.8"/>
<rect x="1020.3" y="680.3" width="15.4" height="15.4" stroke-width="3.8"/>
<rect x="1032.3" y="680.3" width="15.4" height="15.4" stroke-width="3.8"/>
<rect x="1044.3" y="680.3" width="15.4" height="15.4" stroke-width="3.8"/>
<rect x="1054.3" y="680.3" width="15.4" height="15.4" stroke-width="3.8"/>
<rect x="1031.3" y="691.3" width="15.4" height="15.4" stroke-width="3.8"/>
</g>
<path d="M800.1 632.6H842.3M821.2 632.6V649.5M800.1 649.5H842.3" stroke="#1212ee" stroke-width="5.3" fill="none"/>
<path d="M912.0 633.5H955.2M933.6 633.5V652.4M912.0 652.4H955.2" stroke="#1212ee" stroke-width="5.3" fill="none"/>
<path d="M1025.7 582.8H1068.1M1046.9 582.8V613.8M1025.7 613.8H1068.1" stroke="#1212ee" stroke-width="5.3" fill="none"/>
<path d="M1442.9 600.0H1500.3M1471.6 600.0V638.7M1442.9 638.7H1500.3" stroke="#1212ee" stroke-width="5.3" fill="none"/>
<path d="M1604.3 541.1H1663.5M1633.9 541.1V599.0M1604.3 599.0H1663.5" stroke="#1212ee" stroke-width="5.3" fill="none"/>
<g class="mk">
<circle cx="1471.8" cy="114.4" r="6.95" stroke-width="3.8"/>
<circle cx="1471.1" cy="493.7" r="6.95" stroke-width="3.8"/>
<circle cx="1464.7" cy="563.9" r="6.95" stroke-width="3.8"/>
<circle cx="1478.4" cy="561.2" r="6.95" stroke-width="3.8"/>
<circle cx="1478.4" cy="579.4" r="6.95" stroke-width="3.8"/>
<circle cx="1464.7" cy="593.1" r="6.95" stroke-width="3.8"/>
<circle cx="1438.3" cy="611.3" r="6.95" stroke-width="3.8"/>
<circle cx="1464.7" cy="611.3" r="6.95" stroke-width="3.8"/>
<circle cx="1452.0" cy="620.5" r="6.95" stroke-width="3.8"/>
<circle cx="1478.4" cy="623.2" r="6.95" stroke-width="3.8"/>
<circle cx="1491.2" cy="619.6" r="6.95" stroke-width="3.8"/>
<circle cx="1504.9" cy="619.6" r="6.95" stroke-width="3.8"/>
<circle cx="1452.0" cy="636.9" r="6.95" stroke-width="3.8"/>
<circle cx="1464.7" cy="634.1" r="6.95" stroke-width="3.8"/>
<circle cx="1491.2" cy="637.8" r="6.95" stroke-width="3.8"/>
<circle cx="1478.4" cy="646.9" r="6.95" stroke-width="3.8"/>
<circle cx="1438.3" cy="655.1" r="6.95" stroke-width="3.8"/>
<circle cx="1452.0" cy="660.6" r="6.95" stroke-width="3.8"/>
<circle cx="1464.7" cy="657.8" r="6.95" stroke-width="3.8"/>
<circle cx="1491.2" cy="660.6" r="6.95" stroke-width="3.8"/>
<circle cx="1504.9" cy="655.1" r="6.95" stroke-width="3.8"/>
<circle cx="1438.3" cy="672.4" r="6.95" stroke-width="3.8"/>
<circle cx="1425.5" cy="681.6" r="6.95" stroke-width="3.8"/>
<circle cx="1452.0" cy="681.6" r="6.95" stroke-width="3.8"/>
<circle cx="1464.7" cy="676.1" r="6.95" stroke-width="3.8"/>
<circle cx="1478.4" cy="687.0" r="6.95" stroke-width="3.8"/>
<circle cx="1491.2" cy="685.2" r="6.95" stroke-width="3.8"/>
<circle cx="1504.9" cy="672.4" r="6.95" stroke-width="3.8"/>
<circle cx="1517.6" cy="678.8" r="6.95" stroke-width="3.8"/>
<circle cx="1452.0" cy="699.8" r="6.95" stroke-width="3.8"/>
</g>
<g class="mk">
<path d="M1634.0 235.4L1640.8 248.6L1627.2 248.6Z" stroke-width="3.8"/>
<path d="M1634.3 473.5L1641.1 486.7L1627.5 486.7Z" stroke-width="3.8"/>
<path d="M1618.8 502.6L1625.6 515.8L1612.0 515.8Z" stroke-width="3.8"/>
<path d="M1649.8 502.6L1656.6 515.8L1643.0 515.8Z" stroke-width="3.8"/>
<path d="M1634.3 523.6L1641.1 536.8L1627.5 536.8Z" stroke-width="3.8"/>
<path d="M1649.8 567.4L1656.6 580.6L1643.0 580.6Z" stroke-width="3.8"/>
<path d="M1618.8 576.5L1625.6 589.7L1612.0 589.7Z" stroke-width="3.8"/>
<path d="M1603.3 596.5L1610.1 609.7L1596.5 609.7Z" stroke-width="3.8"/>
<path d="M1664.4 602.9L1671.2 616.1L1657.6 616.1Z" stroke-width="3.8"/>
<path d="M1603.3 617.5L1610.1 630.7L1596.5 630.7Z" stroke-width="3.8"/>
<path d="M1634.3 632.1L1641.1 645.3L1627.5 645.3Z" stroke-width="3.8"/>
<path d="M1664.4 628.5L1671.2 641.7L1657.6 641.7Z" stroke-width="3.8"/>
<path d="M1603.3 673.1L1610.1 686.3L1596.5 686.3Z" stroke-width="3.8"/>
<path d="M1634.3 666.7L1641.1 679.9L1627.5 679.9Z" stroke-width="3.8"/>
<path d="M1664.4 670.4L1671.2 683.6L1657.6 683.6Z" stroke-width="3.8"/>
</g>
<path d="M206 1700 Q214 1684 234 1680 Q256 1684 262 1700 L266 1722 Q250 1732 234 1731 Q216 1732 203 1722 Z" fill="#000"/>
<path d="M318 1690 L376 1690 L382 1712 L366 1726 L330 1728 L314 1716 Z" fill="#000"/>
<g class="mk">
<circle cx="233.4" cy="1680.0" r="7.55" stroke-width="4.0"/>
<circle cx="221.5" cy="1689.6" r="7.55" stroke-width="4.0"/>
<circle cx="248.8" cy="1691.9" r="7.55" stroke-width="4.0"/>
<circle cx="263.6" cy="1702.7" r="7.55" stroke-width="4.0"/>
<circle cx="203.8" cy="1708.4" r="7.55" stroke-width="4.0"/>
<circle cx="202.1" cy="1722.7" r="7.55" stroke-width="4.0"/>
<circle cx="223.7" cy="1733.5" r="7.55" stroke-width="4.0"/>
<circle cx="244.8" cy="1732.4" r="7.55" stroke-width="4.0"/>
<circle cx="267.0" cy="1722.7" r="7.55" stroke-width="4.0"/>
<circle cx="233.4" cy="1728.4" r="7.55" stroke-width="4.0"/>
<circle cx="240.0" cy="1684.0" r="7.55" stroke-width="4.0"/>
<circle cx="228.0" cy="1684.0" r="7.55" stroke-width="4.0"/>
<circle cx="212.0" cy="1700.0" r="7.55" stroke-width="4.0"/>
<circle cx="255.0" cy="1700.0" r="7.55" stroke-width="4.0"/>
<circle cx="214.0" cy="1716.0" r="7.55" stroke-width="4.0"/>
<circle cx="254.0" cy="1716.0" r="7.55" stroke-width="4.0"/>
<circle cx="233.0" cy="1700.0" r="7.55" stroke-width="4.0"/>
<circle cx="233.0" cy="1715.0" r="7.55" stroke-width="4.0"/>
<circle cx="222.0" cy="1720.0" r="7.55" stroke-width="4.0"/>
<circle cx="246.0" cy="1720.0" r="7.55" stroke-width="4.0"/>
<circle cx="262.0" cy="1714.0" r="7.55" stroke-width="4.0"/>
<circle cx="206.0" cy="1714.0" r="7.55" stroke-width="4.0"/>
</g>
<g class="mk">
<path d="M346.2 1287.6L353.4 1302.4L339.0 1302.4Z" stroke-width="3.5"/>
<path d="M346.2 1324.3L353.4 1339.1L339.0 1339.1Z" stroke-width="3.5"/>
<path d="M346.2 1489.4L353.4 1504.2L339.0 1504.2Z" stroke-width="3.5"/>
<path d="M346.2 1542.6L353.4 1557.4L339.0 1557.4Z" stroke-width="3.5"/>
<path d="M346.2 1594.8L353.4 1609.6L339.0 1609.6Z" stroke-width="3.5"/>
<path d="M344.0 1598.6L351.2 1613.4L336.8 1613.4Z" stroke-width="3.5"/>
<path d="M342.9 1614.5L350.1 1629.3L335.7 1629.3Z" stroke-width="3.5"/>
<path d="M351.9 1615.7L359.1 1630.5L344.7 1630.5Z" stroke-width="3.5"/>
<path d="M336.9 1619.3L344.1 1634.1L329.7 1634.1Z" stroke-width="3.5"/>
<path d="M345.9 1640.2L353.1 1655.0L338.7 1655.0Z" stroke-width="3.5"/>
<path d="M340.5 1643.2L347.7 1658.0L333.3 1658.0Z" stroke-width="3.5"/>
<path d="M351.9 1643.2L359.1 1658.0L344.7 1658.0Z" stroke-width="3.5"/>
<path d="M342.9 1665.4L350.1 1680.2L335.7 1680.2Z" stroke-width="3.5"/>
<path d="M354.8 1665.4L362.0 1680.2L347.6 1680.2Z" stroke-width="3.5"/>
<path d="M330.9 1730.2L338.1 1745.0L323.7 1745.0Z" stroke-width="3.5"/>
<path d="M354.8 1734.4L362.0 1749.2L347.6 1749.2Z" stroke-width="3.5"/>
<path d="M360.8 1725.4L368.0 1740.2L353.6 1740.2Z" stroke-width="3.5"/>
<path d="M368.0 1717.6L375.2 1732.4L360.8 1732.4Z" stroke-width="3.5"/>
<path d="M375.8 1705.6L383.0 1720.4L368.6 1720.4Z" stroke-width="3.5"/>
<path d="M344.7 1733.2L351.9 1748.0L337.5 1748.0Z" stroke-width="3.5"/>
<path d="M338.0 1725.6L345.2 1740.4L330.8 1740.4Z" stroke-width="3.5"/>
<path d="M350.0 1722.6L357.2 1737.4L342.8 1737.4Z" stroke-width="3.5"/>
<path d="M316.0 1684.6L323.2 1699.4L308.8 1699.4Z" stroke-width="3.5"/>
<path d="M326.0 1684.6L333.2 1699.4L318.8 1699.4Z" stroke-width="3.5"/>
<path d="M336.0 1684.6L343.2 1699.4L328.8 1699.4Z" stroke-width="3.5"/>
<path d="M346.0 1684.6L353.2 1699.4L338.8 1699.4Z" stroke-width="3.5"/>
<path d="M356.0 1684.6L363.2 1699.4L348.8 1699.4Z" stroke-width="3.5"/>
<path d="M366.0 1684.6L373.2 1699.4L358.8 1699.4Z" stroke-width="3.5"/>
<path d="M376.0 1684.6L383.2 1699.4L368.8 1699.4Z" stroke-width="3.5"/>
<path d="M312.0 1692.6L319.2 1707.4L304.8 1707.4Z" stroke-width="3.5"/>
<path d="M322.0 1692.6L329.2 1707.4L314.8 1707.4Z" stroke-width="3.5"/>
<path d="M332.0 1692.6L339.2 1707.4L324.8 1707.4Z" stroke-width="3.5"/>
<path d="M342.0 1692.6L349.2 1707.4L334.8 1707.4Z" stroke-width="3.5"/>
<path d="M352.0 1692.6L359.2 1707.4L344.8 1707.4Z" stroke-width="3.5"/>
<path d="M362.0 1692.6L369.2 1707.4L354.8 1707.4Z" stroke-width="3.5"/>
<path d="M372.0 1692.6L379.2 1707.4L364.8 1707.4Z" stroke-width="3.5"/>
<path d="M382.0 1692.6L389.2 1707.4L374.8 1707.4Z" stroke-width="3.5"/>
<path d="M314.0 1700.6L321.2 1715.4L306.8 1715.4Z" stroke-width="3.5"/>
<path d="M324.0 1700.6L331.2 1715.4L316.8 1715.4Z" stroke-width="3.5"/>
<path d="M334.0 1700.6L341.2 1715.4L326.8 1715.4Z" stroke-width="3.5"/>
<path d="M344.0 1700.6L351.2 1715.4L336.8 1715.4Z" stroke-width="3.5"/>
<path d="M354.0 1700.6L361.2 1715.4L346.8 1715.4Z" stroke-width="3.5"/>
<path d="M364.0 1700.6L371.2 1715.4L356.8 1715.4Z" stroke-width="3.5"/>
<path d="M374.0 1700.6L381.2 1715.4L366.8 1715.4Z" stroke-width="3.5"/>
<path d="M382.0 1700.6L389.2 1715.4L374.8 1715.4Z" stroke-width="3.5"/>
<path d="M318.0 1708.6L325.2 1723.4L310.8 1723.4Z" stroke-width="3.5"/>
<path d="M328.0 1708.6L335.2 1723.4L320.8 1723.4Z" stroke-width="3.5"/>
<path d="M338.0 1708.6L345.2 1723.4L330.8 1723.4Z" stroke-width="3.5"/>
<path d="M348.0 1708.6L355.2 1723.4L340.8 1723.4Z" stroke-width="3.5"/>
<path d="M358.0 1708.6L365.2 1723.4L350.8 1723.4Z" stroke-width="3.5"/>
<path d="M366.0 1708.6L373.2 1723.4L358.8 1723.4Z" stroke-width="3.5"/>
<path d="M326.0 1714.6L333.2 1729.4L318.8 1729.4Z" stroke-width="3.5"/>
<path d="M336.0 1714.6L343.2 1729.4L328.8 1729.4Z" stroke-width="3.5"/>
<path d="M346.0 1714.6L353.2 1729.4L338.8 1729.4Z" stroke-width="3.5"/>
<path d="M356.0 1714.6L363.2 1729.4L348.8 1729.4Z" stroke-width="3.5"/>
</g>
<g class="mk">
<rect x="455.5" y="1133.1" width="14.4" height="14.4" stroke-width="3.8"/>
<rect x="447.5" y="1144.2" width="14.4" height="14.4" stroke-width="3.8"/>
<rect x="452.3" y="1184.1" width="14.4" height="14.4" stroke-width="3.8"/>
<rect x="452.3" y="1263.9" width="14.4" height="14.4" stroke-width="3.8"/>
<rect x="452.3" y="1380.4" width="14.4" height="14.4" stroke-width="3.8"/>
<rect x="464.6" y="1445.0" width="14.4" height="14.4" stroke-width="3.8"/>
<rect x="455.5" y="1456.3" width="14.4" height="14.4" stroke-width="3.8"/>
<rect x="447.3" y="1459.4" width="14.4" height="14.4" stroke-width="3.8"/>
<rect x="473.0" y="1538.8" width="14.4" height="14.4" stroke-width="3.8"/>
<rect x="439.2" y="1544.1" width="14.4" height="14.4" stroke-width="3.8"/>
<rect x="447.3" y="1544.1" width="14.4" height="14.4" stroke-width="3.8"/>
<rect x="455.8" y="1544.1" width="14.4" height="14.4" stroke-width="3.8"/>
<rect x="464.3" y="1544.1" width="14.4" height="14.4" stroke-width="3.8"/>
<rect x="468.6" y="1548.5" width="14.4" height="14.4" stroke-width="3.8"/>
<rect x="455.6" y="1562.6" width="14.4" height="14.4" stroke-width="3.8"/>
<rect x="465.5" y="1587.4" width="14.4" height="14.4" stroke-width="3.8"/>
<rect x="438.6" y="1596.8" width="14.4" height="14.4" stroke-width="3.8"/>
<rect x="444.8" y="1590.8" width="14.4" height="14.4" stroke-width="3.8"/>
<rect x="454.8" y="1588.8" width="14.4" height="14.4" stroke-width="3.8"/>
<rect x="462.8" y="1593.8" width="14.4" height="14.4" stroke-width="3.8"/>
<rect x="436.8" y="1599.8" width="14.4" height="14.4" stroke-width="3.8"/>
<rect x="426.0" y="1654.8" width="14.4" height="14.4" stroke-width="3.8"/>
<rect x="426.6" y="1677.3" width="14.4" height="14.4" stroke-width="3.8"/>
<rect x="437.9" y="1694.9" width="14.4" height="14.4" stroke-width="3.8"/>
<rect x="455.5" y="1696.8" width="14.4" height="14.4" stroke-width="3.8"/>
<rect x="474.9" y="1699.9" width="14.4" height="14.4" stroke-width="3.8"/>
<rect x="428.5" y="1709.9" width="14.4" height="14.4" stroke-width="3.8"/>
<rect x="447.3" y="1709.9" width="14.4" height="14.4" stroke-width="3.8"/>
<rect x="464.3" y="1711.8" width="14.4" height="14.4" stroke-width="3.8"/>
<rect x="464.3" y="1677.3" width="14.4" height="14.4" stroke-width="3.8"/>
<rect x="473.0" y="1677.3" width="14.4" height="14.4" stroke-width="3.8"/>
<rect x="447.3" y="1682.4" width="14.4" height="14.4" stroke-width="3.8"/>
<rect x="466.8" y="1656.7" width="14.4" height="14.4" stroke-width="3.8"/>
<rect x="476.2" y="1657.9" width="14.4" height="14.4" stroke-width="3.8"/>
<rect x="484.3" y="1644.1" width="14.4" height="14.4" stroke-width="3.8"/>
<rect x="450.5" y="1643.5" width="14.4" height="14.4" stroke-width="3.8"/>
<rect x="434.2" y="1638.5" width="14.4" height="14.4" stroke-width="3.8"/>
<rect x="419.8" y="1615.8" width="14.4" height="14.4" stroke-width="3.8"/>
<rect x="428.8" y="1615.8" width="14.4" height="14.4" stroke-width="3.8"/>
<rect x="438.8" y="1615.8" width="14.4" height="14.4" stroke-width="3.8"/>
<rect x="447.8" y="1615.8" width="14.4" height="14.4" stroke-width="3.8"/>
<rect x="456.8" y="1615.8" width="14.4" height="14.4" stroke-width="3.8"/>
<rect x="465.8" y="1615.8" width="14.4" height="14.4" stroke-width="3.8"/>
<rect x="474.8" y="1615.8" width="14.4" height="14.4" stroke-width="3.8"/>
<rect x="480.8" y="1615.8" width="14.4" height="14.4" stroke-width="3.8"/>
<rect x="422.8" y="1630.8" width="14.4" height="14.4" stroke-width="3.8"/>
<rect x="432.8" y="1630.8" width="14.4" height="14.4" stroke-width="3.8"/>
<rect x="442.8" y="1630.8" width="14.4" height="14.4" stroke-width="3.8"/>
<rect x="452.8" y="1630.8" width="14.4" height="14.4" stroke-width="3.8"/>
<rect x="462.8" y="1630.8" width="14.4" height="14.4" stroke-width="3.8"/>
<rect x="472.8" y="1630.8" width="14.4" height="14.4" stroke-width="3.8"/>
<rect x="480.8" y="1630.8" width="14.4" height="14.4" stroke-width="3.8"/>
<rect x="438.8" y="1644.8" width="14.4" height="14.4" stroke-width="3.8"/>
<rect x="458.8" y="1644.8" width="14.4" height="14.4" stroke-width="3.8"/>
<rect x="436.8" y="1664.8" width="14.4" height="14.4" stroke-width="3.8"/>
<rect x="448.8" y="1664.8" width="14.4" height="14.4" stroke-width="3.8"/>
<rect x="458.8" y="1664.8" width="14.4" height="14.4" stroke-width="3.8"/>
<rect x="434.8" y="1684.8" width="14.4" height="14.4" stroke-width="3.8"/>
<rect x="456.8" y="1684.8" width="14.4" height="14.4" stroke-width="3.8"/>
</g>
<rect x="212.9" y="1704.8" width="42.8" height="10.5" fill="#1212ee"/>
<path d="M324.3 1660.0H367.3M345.8 1660.0V1681.5M324.3 1681.5H367.3" stroke="#1212ee" stroke-width="5.3" fill="none"/>
<path d="M437.6 1569.5H480.0M458.8 1569.5V1608.7M437.6 1608.7H480.0" stroke="#1212ee" stroke-width="5.3" fill="none"/>
<g opacity="0.55">
<path d="M805.5 1760.5H847.5M826.5 1760.5V1771.5M805.5 1771.5H847.5" stroke="#1212ee" stroke-width="5.3" fill="none"/>
</g>
<path d="M917.0 1686.8H959.8M938.4 1686.8V1705.0M917.0 1705.0H959.8" stroke="#1212ee" stroke-width="5.3" fill="none"/>
<ellipse cx="825" cy="1767" rx="21" ry="12" fill="#000"/>
<g class="mk">
<circle cx="825.4" cy="1690.7" r="7.0" stroke-width="3.8"/>
<circle cx="829.9" cy="1708.4" r="7.0" stroke-width="3.8"/>
<circle cx="822.2" cy="1712.9" r="7.0" stroke-width="3.8"/>
<circle cx="825.4" cy="1727.8" r="7.0" stroke-width="3.8"/>
<circle cx="817.6" cy="1748.5" r="7.0" stroke-width="3.8"/>
<circle cx="832.5" cy="1747.8" r="7.0" stroke-width="3.8"/>
<circle cx="844.8" cy="1758.2" r="7.0" stroke-width="3.8"/>
<circle cx="807.3" cy="1760.7" r="7.0" stroke-width="3.8"/>
<circle cx="815.0" cy="1765.0" r="7.0" stroke-width="3.8"/>
<circle cx="825.0" cy="1762.0" r="7.0" stroke-width="3.8"/>
<circle cx="835.0" cy="1765.0" r="7.0" stroke-width="3.8"/>
<circle cx="820.0" cy="1772.0" r="7.0" stroke-width="3.8"/>
<circle cx="830.0" cy="1772.0" r="7.0" stroke-width="3.8"/>
<circle cx="810.0" cy="1775.0" r="7.0" stroke-width="3.8"/>
<circle cx="840.0" cy="1775.0" r="7.0" stroke-width="3.8"/>
<circle cx="794.4" cy="1789.8" r="7.0" stroke-width="3.8"/>
<circle cx="855.7" cy="1789.8" r="7.0" stroke-width="3.8"/>
<circle cx="807.3" cy="1783.4" r="7.0" stroke-width="3.8"/>
<circle cx="846.0" cy="1783.4" r="7.0" stroke-width="3.8"/>
<circle cx="815.0" cy="1792.0" r="7.0" stroke-width="3.8"/>
<circle cx="826.0" cy="1792.0" r="7.0" stroke-width="3.8"/>
<circle cx="837.0" cy="1792.0" r="7.0" stroke-width="3.8"/>
<circle cx="820.0" cy="1782.0" r="7.0" stroke-width="3.8"/>
<circle cx="832.0" cy="1782.0" r="7.0" stroke-width="3.8"/>
<circle cx="814.2" cy="1798.8" r="7.0" stroke-width="3.8"/>
<circle cx="827.9" cy="1798.8" r="7.0" stroke-width="3.8"/>
<circle cx="838.1" cy="1798.8" r="7.0" stroke-width="3.8"/>
<circle cx="855.8" cy="1798.3" r="7.0" stroke-width="3.8"/>
<circle cx="792.6" cy="1789.1" r="7.0" stroke-width="3.8"/>
<circle cx="802.0" cy="1796.0" r="7.0" stroke-width="3.8"/>
</g>
<path d="M937 1664 L948 1676 L957 1692 L966 1710 L970 1728 L960 1740 L955 1758 L921 1758 L916 1740 L906 1728 L910 1710 L918 1692 L926 1676 Z" fill="#000"/>
<g class="mk">
<path d="M938.5 1252.6L945.9 1267.2L931.1 1267.2Z" stroke-width="3.8"/>
<path d="M936.5 1558.9L943.9 1573.5L929.1 1573.5Z" stroke-width="3.8"/>
<path d="M941.7 1568.5L949.1 1583.1L934.3 1583.1Z" stroke-width="3.8"/>
<path d="M930.7 1622.2L938.1 1636.8L923.3 1636.8Z" stroke-width="3.8"/>
<path d="M938.4 1622.2L945.8 1636.8L931.0 1636.8Z" stroke-width="3.8"/>
<path d="M946.2 1622.2L953.6 1636.8L938.8 1636.8Z" stroke-width="3.8"/>
<path d="M940.4 1644.1L947.8 1658.7L933.0 1658.7Z" stroke-width="3.8"/>
<path d="M936.0 1650.7L943.4 1665.3L928.6 1665.3Z" stroke-width="3.8"/>
<path d="M930.0 1660.7L937.4 1675.3L922.6 1675.3Z" stroke-width="3.8"/>
<path d="M942.0 1660.7L949.4 1675.3L934.6 1675.3Z" stroke-width="3.8"/>
<path d="M924.0 1672.7L931.4 1687.3L916.6 1687.3Z" stroke-width="3.8"/>
<path d="M936.0 1672.7L943.4 1687.3L928.6 1687.3Z" stroke-width="3.8"/>
<path d="M948.0 1672.7L955.4 1687.3L940.6 1687.3Z" stroke-width="3.8"/>
<path d="M918.0 1684.7L925.4 1699.3L910.6 1699.3Z" stroke-width="3.8"/>
<path d="M930.0 1684.7L937.4 1699.3L922.6 1699.3Z" stroke-width="3.8"/>
<path d="M942.0 1684.7L949.4 1699.3L934.6 1699.3Z" stroke-width="3.8"/>
<path d="M954.0 1684.7L961.4 1699.3L946.6 1699.3Z" stroke-width="3.8"/>
<path d="M912.0 1697.7L919.4 1712.3L904.6 1712.3Z" stroke-width="3.8"/>
<path d="M924.0 1697.7L931.4 1712.3L916.6 1712.3Z" stroke-width="3.8"/>
<path d="M936.0 1697.7L943.4 1712.3L928.6 1712.3Z" stroke-width="3.8"/>
<path d="M948.0 1697.7L955.4 1712.3L940.6 1712.3Z" stroke-width="3.8"/>
<path d="M960.0 1697.7L967.4 1712.3L952.6 1712.3Z" stroke-width="3.8"/>
<path d="M906.0 1710.7L913.4 1725.3L898.6 1725.3Z" stroke-width="3.8"/>
<path d="M918.0 1710.7L925.4 1725.3L910.6 1725.3Z" stroke-width="3.8"/>
<path d="M930.0 1710.7L937.4 1725.3L922.6 1725.3Z" stroke-width="3.8"/>
<path d="M942.0 1710.7L949.4 1725.3L934.6 1725.3Z" stroke-width="3.8"/>
<path d="M954.0 1710.7L961.4 1725.3L946.6 1725.3Z" stroke-width="3.8"/>
<path d="M966.0 1710.7L973.4 1725.3L958.6 1725.3Z" stroke-width="3.8"/>
<path d="M904.0 1722.7L911.4 1737.3L896.6 1737.3Z" stroke-width="3.8"/>
<path d="M916.0 1722.7L923.4 1737.3L908.6 1737.3Z" stroke-width="3.8"/>
<path d="M928.0 1722.7L935.4 1737.3L920.6 1737.3Z" stroke-width="3.8"/>
<path d="M940.0 1722.7L947.4 1737.3L932.6 1737.3Z" stroke-width="3.8"/>
<path d="M952.0 1722.7L959.4 1737.3L944.6 1737.3Z" stroke-width="3.8"/>
<path d="M964.0 1722.7L971.4 1737.3L956.6 1737.3Z" stroke-width="3.8"/>
<path d="M972.0 1722.7L979.4 1737.3L964.6 1737.3Z" stroke-width="3.8"/>
<path d="M918.0 1737.7L925.4 1752.3L910.6 1752.3Z" stroke-width="3.8"/>
<path d="M930.0 1737.7L937.4 1752.3L922.6 1752.3Z" stroke-width="3.8"/>
<path d="M942.0 1737.7L949.4 1752.3L934.6 1752.3Z" stroke-width="3.8"/>
<path d="M954.0 1737.7L961.4 1752.3L946.6 1752.3Z" stroke-width="3.8"/>
<path d="M916.0 1748.7L923.4 1763.3L908.6 1763.3Z" stroke-width="3.8"/>
<path d="M928.0 1748.7L935.4 1763.3L920.6 1763.3Z" stroke-width="3.8"/>
<path d="M940.0 1748.7L947.4 1763.3L932.6 1763.3Z" stroke-width="3.8"/>
<path d="M952.0 1748.7L959.4 1763.3L944.6 1763.3Z" stroke-width="3.8"/>
<path d="M962.0 1748.7L969.4 1763.3L954.6 1763.3Z" stroke-width="3.8"/>
<path d="M922.0 1756.7L929.4 1771.3L914.6 1771.3Z" stroke-width="3.8"/>
<path d="M934.0 1756.7L941.4 1771.3L926.6 1771.3Z" stroke-width="3.8"/>
<path d="M946.0 1756.7L953.4 1771.3L938.6 1771.3Z" stroke-width="3.8"/>
<path d="M958.0 1756.7L965.4 1771.3L950.6 1771.3Z" stroke-width="3.8"/>
</g>
<g class="mk">
<rect x="1044.9" y="1197.5" width="13.2" height="13.2" stroke-width="3.6"/>
<rect x="1044.9" y="1292.3" width="13.2" height="13.2" stroke-width="3.6"/>
<rect x="1044.9" y="1409.7" width="13.2" height="13.2" stroke-width="3.6"/>
<rect x="1044.9" y="1430.1" width="13.2" height="13.2" stroke-width="3.6"/>
<rect x="1044.9" y="1446.0" width="13.2" height="13.2" stroke-width="3.6"/>
<rect x="1044.9" y="1509.9" width="13.2" height="13.2" stroke-width="3.6"/>
<rect x="1034.7" y="1546.7" width="13.2" height="13.2" stroke-width="3.6"/>
<rect x="1055.4" y="1542.1" width="13.2" height="13.2" stroke-width="3.6"/>
<rect x="1045.1" y="1556.3" width="13.2" height="13.2" stroke-width="3.6"/>
<rect x="1055.4" y="1582.2" width="13.2" height="13.2" stroke-width="3.6"/>
<rect x="1045.1" y="1595.8" width="13.2" height="13.2" stroke-width="3.6"/>
<rect x="1034.7" y="1618.4" width="13.2" height="13.2" stroke-width="3.6"/>
<rect x="1055.4" y="1632.6" width="13.2" height="13.2" stroke-width="3.6"/>
<rect x="1045.1" y="1635.8" width="13.2" height="13.2" stroke-width="3.6"/>
<rect x="1025.0" y="1778.4" width="13.2" height="13.2" stroke-width="3.6"/>
<rect x="1065.2" y="1778.4" width="13.2" height="13.2" stroke-width="3.6"/>
<rect x="1045.8" y="1770.9" width="13.2" height="13.2" stroke-width="3.6"/>
<rect x="1021.4" y="1647.4" width="13.2" height="13.2" stroke-width="3.6"/>
<rect x="1033.4" y="1647.4" width="13.2" height="13.2" stroke-width="3.6"/>
<rect x="1045.4" y="1647.4" width="13.2" height="13.2" stroke-width="3.6"/>
<rect x="1057.4" y="1647.4" width="13.2" height="13.2" stroke-width="3.6"/>
<rect x="1064.4" y="1647.4" width="13.2" height="13.2" stroke-width="3.6"/>
<rect x="1029.4" y="1659.4" width="13.2" height="13.2" stroke-width="3.6"/>
<rect x="1041.4" y="1659.4" width="13.2" height="13.2" stroke-width="3.6"/>
<rect x="1053.4" y="1659.4" width="13.2" height="13.2" stroke-width="3.6"/>
<rect x="1018.7" y="1666.0" width="13.2" height="13.2" stroke-width="3.6"/>
<rect x="1031.0" y="1665.7" width="13.2" height="13.2" stroke-width="3.6"/>
<rect x="1041.5" y="1666.9" width="13.2" height="13.2" stroke-width="3.6"/>
<rect x="1050.6" y="1667.4" width="13.2" height="13.2" stroke-width="3.6"/>
<rect x="1061.5" y="1667.1" width="13.2" height="13.2" stroke-width="3.6"/>
<rect x="1072.7" y="1665.8" width="13.2" height="13.2" stroke-width="3.6"/>
<rect x="1024.1" y="1678.7" width="13.2" height="13.2" stroke-width="3.6"/>
<rect x="1033.9" y="1676.3" width="13.2" height="13.2" stroke-width="3.6"/>
<rect x="1046.9" y="1679.2" width="13.2" height="13.2" stroke-width="3.6"/>
<rect x="1057.7" y="1677.0" width="13.2" height="13.2" stroke-width="3.6"/>
<rect x="1070.3" y="1675.6" width="13.2" height="13.2" stroke-width="3.6"/>
<rect x="1020.8" y="1686.6" width="13.2" height="13.2" stroke-width="3.6"/>
<rect x="1029.0" y="1685.9" width="13.2" height="13.2" stroke-width="3.6"/>
<rect x="1040.6" y="1688.7" width="13.2" height="13.2" stroke-width="3.6"/>
<rect x="1051.1" y="1687.7" width="13.2" height="13.2" stroke-width="3.6"/>
<rect x="1064.0" y="1686.9" width="13.2" height="13.2" stroke-width="3.6"/>
<rect x="1074.6" y="1685.7" width="13.2" height="13.2" stroke-width="3.6"/>
<rect x="1022.6" y="1696.2" width="13.2" height="13.2" stroke-width="3.6"/>
<rect x="1036.1" y="1697.1" width="13.2" height="13.2" stroke-width="3.6"/>
<rect x="1045.7" y="1697.7" width="13.2" height="13.2" stroke-width="3.6"/>
<rect x="1057.2" y="1696.6" width="13.2" height="13.2" stroke-width="3.6"/>
<rect x="1069.6" y="1698.2" width="13.2" height="13.2" stroke-width="3.6"/>
<rect x="1018.4" y="1707.7" width="13.2" height="13.2" stroke-width="3.6"/>
<rect x="1030.5" y="1708.9" width="13.2" height="13.2" stroke-width="3.6"/>
<rect x="1042.3" y="1706.6" width="13.2" height="13.2" stroke-width="3.6"/>
<rect x="1054.3" y="1705.9" width="13.2" height="13.2" stroke-width="3.6"/>
<rect x="1063.1" y="1708.4" width="13.2" height="13.2" stroke-width="3.6"/>
<rect x="1073.0" y="1707.4" width="13.2" height="13.2" stroke-width="3.6"/>
<rect x="1022.6" y="1718.1" width="13.2" height="13.2" stroke-width="3.6"/>
<rect x="1036.5" y="1717.7" width="13.2" height="13.2" stroke-width="3.6"/>
<rect x="1047.9" y="1716.7" width="13.2" height="13.2" stroke-width="3.6"/>
<rect x="1058.2" y="1717.8" width="13.2" height="13.2" stroke-width="3.6"/>
<rect x="1068.7" y="1717.2" width="13.2" height="13.2" stroke-width="3.6"/>
<rect x="1020.8" y="1729.2" width="13.2" height="13.2" stroke-width="3.6"/>
<rect x="1030.3" y="1728.1" width="13.2" height="13.2" stroke-width="3.6"/>
<rect x="1039.6" y="1728.2" width="13.2" height="13.2" stroke-width="3.6"/>
<rect x="1053.0" y="1729.4" width="13.2" height="13.2" stroke-width="3.6"/>
<rect x="1064.7" y="1726.5" width="13.2" height="13.2" stroke-width="3.6"/>
<rect x="1073.9" y="1728.1" width="13.2" height="13.2" stroke-width="3.6"/>
<rect x="1022.5" y="1737.2" width="13.2" height="13.2" stroke-width="3.6"/>
<rect x="1034.1" y="1735.9" width="13.2" height="13.2" stroke-width="3.6"/>
<rect x="1044.6" y="1738.5" width="13.2" height="13.2" stroke-width="3.6"/>
<rect x="1055.9" y="1736.4" width="13.2" height="13.2" stroke-width="3.6"/>
<rect x="1068.0" y="1738.9" width="13.2" height="13.2" stroke-width="3.6"/>
<rect x="1017.7" y="1747.2" width="13.2" height="13.2" stroke-width="3.6"/>
<rect x="1030.6" y="1748.9" width="13.2" height="13.2" stroke-width="3.6"/>
<rect x="1042.7" y="1748.9" width="13.2" height="13.2" stroke-width="3.6"/>
<rect x="1051.5" y="1747.1" width="13.2" height="13.2" stroke-width="3.6"/>
<rect x="1062.8" y="1748.9" width="13.2" height="13.2" stroke-width="3.6"/>
<rect x="1076.2" y="1746.0" width="13.2" height="13.2" stroke-width="3.6"/>
<rect x="1023.1" y="1756.3" width="13.2" height="13.2" stroke-width="3.6"/>
<rect x="1034.3" y="1757.3" width="13.2" height="13.2" stroke-width="3.6"/>
<rect x="1046.8" y="1756.5" width="13.2" height="13.2" stroke-width="3.6"/>
<rect x="1055.4" y="1757.1" width="13.2" height="13.2" stroke-width="3.6"/>
<rect x="1067.9" y="1757.7" width="13.2" height="13.2" stroke-width="3.6"/>
</g>
<path d="M1031 1645.2H1073M1052 1645.2V1680M1031 1680H1073" stroke="#1212ee" stroke-width="4.8" fill="none" opacity="0.5"/>
<path d="M1404.0 1041.5V1469.3H1477.5V1041.5" stroke="#000" stroke-width="3.6" fill="none" stroke-linejoin="miter"/>
<path d="M1519.0 1041.5V1489.3H1591.8V1041.5" stroke="#000" stroke-width="3.6" fill="none" stroke-linejoin="miter"/>
<path d="M1633.3 1041.5V1404.7H1705.8V1041.5" stroke="#000" stroke-width="3.6" fill="none" stroke-linejoin="miter"/>
<line x1="1440.7" y1="1798.5" x2="1440.7" y2="1814.0" stroke="#000" stroke-width="4.0" stroke-linecap="butt"/>
<text x="1440.7" y="1848.0" font-size="32.5" text-anchor="middle">HC</text>
<line x1="1555.4" y1="1798.5" x2="1555.4" y2="1814.0" stroke="#000" stroke-width="4.0" stroke-linecap="butt"/>
<text x="1555.4" y="1848.0" font-size="32.5" text-anchor="middle">CH</text>
<line x1="1669.9" y1="1798.5" x2="1669.9" y2="1814.0" stroke="#000" stroke-width="4.0" stroke-linecap="butt"/>
<text x="1669.9" y="1848.0" font-size="32.5" text-anchor="middle">LC</text>
<text x="1290.1" y="1422.6" font-size="32.5" text-anchor="middle" transform="rotate(-90 1290.1 1422.6)" textLength="66.5" lengthAdjust="spacingAndGlyphs">ALBI</text>
<path d="M1431.9 1597.2V1616.2M1431.9 1606.7H1553.2M1553.2 1597.2V1616.2" stroke="#1a1a1a" stroke-width="2.5" fill="none"/>
<text x="1499.8" y="1658.8" font-size="48" text-anchor="middle" style="font-family:'DejaVu Sans', sans-serif" letter-spacing="7.7" class="st">*</text>
<path d="M1552.3 1632.3V1651.3M1552.3 1641.8H1672.7M1672.7 1632.3V1651.3" stroke="#1a1a1a" stroke-width="2.5" fill="none"/>
<text x="1616.2" y="1698.4" font-size="48" text-anchor="middle" style="font-family:'DejaVu Sans', sans-serif" letter-spacing="7.7" class="st">****</text>
<path d="M1437.0 1703.0V1722.0M1437.0 1712.5H1667.6M1667.6 1703.0V1722.0" stroke="#1a1a1a" stroke-width="2.5" fill="none"/>
<text x="1563.8" y="1764.0" font-size="48" text-anchor="middle" style="font-family:'DejaVu Sans', sans-serif" letter-spacing="7.7" class="st">***</text>
<g class="mk">
<circle cx="1440.6" cy="1417.1" r="7.0" stroke-width="3.8"/>
<circle cx="1421.8" cy="1436.5" r="7.0" stroke-width="3.8"/>
<circle cx="1430.3" cy="1433.0" r="7.0" stroke-width="3.8"/>
<circle cx="1436.6" cy="1434.2" r="7.0" stroke-width="3.8"/>
<circle cx="1445.1" cy="1435.3" r="7.0" stroke-width="3.8"/>
<circle cx="1450.8" cy="1434.2" r="7.0" stroke-width="3.8"/>
<circle cx="1458.8" cy="1436.5" r="7.0" stroke-width="3.8"/>
<circle cx="1462.8" cy="1441.0" r="7.0" stroke-width="3.8"/>
<circle cx="1412.1" cy="1445.6" r="7.0" stroke-width="3.8"/>
<circle cx="1418.9" cy="1441.0" r="7.0" stroke-width="3.8"/>
<circle cx="1430.3" cy="1449.0" r="7.0" stroke-width="3.8"/>
<circle cx="1440.6" cy="1450.1" r="7.0" stroke-width="3.8"/>
<circle cx="1450.3" cy="1446.7" r="7.0" stroke-width="3.8"/>
<circle cx="1464.5" cy="1447.3" r="7.0" stroke-width="3.8"/>
<circle cx="1471.4" cy="1452.4" r="7.0" stroke-width="3.8"/>
<circle cx="1409.2" cy="1451.3" r="7.0" stroke-width="3.8"/>
<circle cx="1423.5" cy="1461.5" r="7.0" stroke-width="3.8"/>
<circle cx="1434.9" cy="1460.4" r="7.0" stroke-width="3.8"/>
<circle cx="1449.7" cy="1461.0" r="7.0" stroke-width="3.8"/>
<circle cx="1459.4" cy="1460.4" r="7.0" stroke-width="3.8"/>
<circle cx="1426.9" cy="1476.9" r="7.0" stroke-width="3.8"/>
<circle cx="1434.9" cy="1480.9" r="7.0" stroke-width="3.8"/>
<circle cx="1443.4" cy="1478.6" r="7.0" stroke-width="3.8"/>
<circle cx="1452.0" cy="1480.9" r="7.0" stroke-width="3.8"/>
<circle cx="1456.5" cy="1481.5" r="7.0" stroke-width="3.8"/>
<circle cx="1431.5" cy="1493.1" r="7.0" stroke-width="3.8"/>
<circle cx="1440.6" cy="1494.8" r="7.0" stroke-width="3.8"/>
<circle cx="1451.4" cy="1490.3" r="7.0" stroke-width="3.8"/>
<circle cx="1444.0" cy="1488.0" r="7.0" stroke-width="3.8"/>
<circle cx="1426.9" cy="1506.8" r="7.0" stroke-width="3.8"/>
<circle cx="1444.6" cy="1511.9" r="7.0" stroke-width="3.8"/>
<circle cx="1454.3" cy="1514.8" r="7.0" stroke-width="3.8"/>
<circle cx="1436.0" cy="1515.3" r="7.0" stroke-width="3.8"/>
<circle cx="1440.6" cy="1527.3" r="7.0" stroke-width="3.8"/>
<circle cx="1431.5" cy="1534.1" r="7.0" stroke-width="3.8"/>
<circle cx="1449.1" cy="1534.1" r="7.0" stroke-width="3.8"/>
</g>
<path d="M1548 1462 L1566 1462 L1580 1480 L1584 1500 L1572 1525 L1562 1546 L1548 1546 L1538 1525 L1526 1500 L1530 1480 Z" fill="#000"/>
<g class="mk">
<path d="M1559.1 1398.7L1565.9 1411.5L1552.3 1411.5Z" stroke-width="3.8"/>
<path d="M1554.6 1412.4L1561.4 1425.2L1547.8 1425.2Z" stroke-width="3.8"/>
<path d="M1555.1 1431.2L1561.9 1444.0L1548.3 1444.0Z" stroke-width="3.8"/>
<path d="M1578.5 1442.0L1585.3 1454.8L1571.7 1454.8Z" stroke-width="3.8"/>
<path d="M1532.4 1449.4L1539.2 1462.2L1525.6 1462.2Z" stroke-width="3.8"/>
<path d="M1540.0 1448.6L1546.8 1461.4L1533.2 1461.4Z" stroke-width="3.8"/>
<path d="M1567.7 1450.6L1574.5 1463.4L1560.9 1463.4Z" stroke-width="3.8"/>
<path d="M1554.6 1450.6L1561.4 1463.4L1547.8 1463.4Z" stroke-width="3.8"/>
<path d="M1546.0 1452.3L1552.8 1465.1L1539.2 1465.1Z" stroke-width="3.8"/>
<path d="M1543.7 1549.1L1550.5 1561.9L1536.9 1561.9Z" stroke-width="3.8"/>
<path d="M1555.1 1549.1L1561.9 1561.9L1548.3 1561.9Z" stroke-width="3.8"/>
<path d="M1567.1 1550.3L1573.9 1563.1L1560.3 1563.1Z" stroke-width="3.8"/>
<path d="M1525.0 1491.6L1531.8 1504.4L1518.2 1504.4Z" stroke-width="3.8"/>
<path d="M1586.0 1498.6L1592.8 1511.4L1579.2 1511.4Z" stroke-width="3.8"/>
<path d="M1530.0 1461.6L1536.8 1474.4L1523.2 1474.4Z" stroke-width="3.8"/>
<path d="M1540.0 1461.6L1546.8 1474.4L1533.2 1474.4Z" stroke-width="3.8"/>
<path d="M1550.0 1461.6L1556.8 1474.4L1543.2 1474.4Z" stroke-width="3.8"/>
<path d="M1560.0 1461.6L1566.8 1474.4L1553.2 1474.4Z" stroke-width="3.8"/>
<path d="M1570.0 1461.6L1576.8 1474.4L1563.2 1474.4Z" stroke-width="3.8"/>
<path d="M1580.0 1461.6L1586.8 1474.4L1573.2 1474.4Z" stroke-width="3.8"/>
<path d="M1528.0 1471.6L1534.8 1484.4L1521.2 1484.4Z" stroke-width="3.8"/>
<path d="M1538.0 1471.6L1544.8 1484.4L1531.2 1484.4Z" stroke-width="3.8"/>
<path d="M1548.0 1471.6L1554.8 1484.4L1541.2 1484.4Z" stroke-width="3.8"/>
<path d="M1558.0 1471.6L1564.8 1484.4L1551.2 1484.4Z" stroke-width="3.8"/>
<path d="M1568.0 1471.6L1574.8 1484.4L1561.2 1484.4Z" stroke-width="3.8"/>
<path d="M1578.0 1471.6L1584.8 1484.4L1571.2 1484.4Z" stroke-width="3.8"/>
<path d="M1522.0 1483.6L1528.8 1496.4L1515.2 1496.4Z" stroke-width="3.8"/>
<path d="M1532.0 1483.6L1538.8 1496.4L1525.2 1496.4Z" stroke-width="3.8"/>
<path d="M1542.0 1483.6L1548.8 1496.4L1535.2 1496.4Z" stroke-width="3.8"/>
<path d="M1552.0 1483.6L1558.8 1496.4L1545.2 1496.4Z" stroke-width="3.8"/>
<path d="M1562.0 1483.6L1568.8 1496.4L1555.2 1496.4Z" stroke-width="3.8"/>
<path d="M1572.0 1483.6L1578.8 1496.4L1565.2 1496.4Z" stroke-width="3.8"/>
<path d="M1582.0 1483.6L1588.8 1496.4L1575.2 1496.4Z" stroke-width="3.8"/>
<path d="M1588.0 1483.6L1594.8 1496.4L1581.2 1496.4Z" stroke-width="3.8"/>
<path d="M1526.0 1495.6L1532.8 1508.4L1519.2 1508.4Z" stroke-width="3.8"/>
<path d="M1536.0 1495.6L1542.8 1508.4L1529.2 1508.4Z" stroke-width="3.8"/>
<path d="M1546.0 1495.6L1552.8 1508.4L1539.2 1508.4Z" stroke-width="3.8"/>
<path d="M1556.0 1495.6L1562.8 1508.4L1549.2 1508.4Z" stroke-width="3.8"/>
<path d="M1566.0 1495.6L1572.8 1508.4L1559.2 1508.4Z" stroke-width="3.8"/>
<path d="M1576.0 1495.6L1582.8 1508.4L1569.2 1508.4Z" stroke-width="3.8"/>
<path d="M1584.0 1495.6L1590.8 1508.4L1577.2 1508.4Z" stroke-width="3.8"/>
<path d="M1530.0 1505.6L1536.8 1518.4L1523.2 1518.4Z" stroke-width="3.8"/>
<path d="M1540.0 1505.6L1546.8 1518.4L1533.2 1518.4Z" stroke-width="3.8"/>
<path d="M1550.0 1505.6L1556.8 1518.4L1543.2 1518.4Z" stroke-width="3.8"/>
<path d="M1560.0 1505.6L1566.8 1518.4L1553.2 1518.4Z" stroke-width="3.8"/>
<path d="M1570.0 1505.6L1576.8 1518.4L1563.2 1518.4Z" stroke-width="3.8"/>
<path d="M1580.0 1505.6L1586.8 1518.4L1573.2 1518.4Z" stroke-width="3.8"/>
<path d="M1536.0 1515.6L1542.8 1528.4L1529.2 1528.4Z" stroke-width="3.8"/>
<path d="M1546.0 1515.6L1552.8 1528.4L1539.2 1528.4Z" stroke-width="3.8"/>
<path d="M1556.0 1515.6L1562.8 1528.4L1549.2 1528.4Z" stroke-width="3.8"/>
<path d="M1566.0 1515.6L1572.8 1528.4L1559.2 1528.4Z" stroke-width="3.8"/>
<path d="M1574.0 1515.6L1580.8 1528.4L1567.2 1528.4Z" stroke-width="3.8"/>
<path d="M1542.0 1527.6L1548.8 1540.4L1535.2 1540.4Z" stroke-width="3.8"/>
<path d="M1552.0 1527.6L1558.8 1540.4L1545.2 1540.4Z" stroke-width="3.8"/>
<path d="M1562.0 1527.6L1568.8 1540.4L1555.2 1540.4Z" stroke-width="3.8"/>
<path d="M1570.0 1527.6L1576.8 1540.4L1563.2 1540.4Z" stroke-width="3.8"/>
<path d="M1548.0 1538.6L1554.8 1551.4L1541.2 1551.4Z" stroke-width="3.8"/>
<path d="M1560.0 1538.6L1566.8 1551.4L1553.2 1551.4Z" stroke-width="3.8"/>
</g>
<g class="mk">
<rect x="1661.7" y="1210.2" width="14.6" height="14.6" stroke-width="3.8"/>
<rect x="1661.7" y="1257.1" width="14.6" height="14.6" stroke-width="3.8"/>
<rect x="1648.8" y="1289.3" width="14.6" height="14.6" stroke-width="3.8"/>
<rect x="1662.4" y="1280.9" width="14.6" height="14.6" stroke-width="3.8"/>
<rect x="1670.7" y="1280.9" width="14.6" height="14.6" stroke-width="3.8"/>
<rect x="1675.4" y="1280.2" width="14.6" height="14.6" stroke-width="3.8"/>
<rect x="1675.4" y="1296.3" width="14.6" height="14.6" stroke-width="3.8"/>
<rect x="1657.5" y="1311.7" width="14.6" height="14.6" stroke-width="3.8"/>
<rect x="1667.3" y="1311.7" width="14.6" height="14.6" stroke-width="3.8"/>
<rect x="1647.7" y="1318.7" width="14.6" height="14.6" stroke-width="3.8"/>
<rect x="1645.6" y="1323.9" width="14.6" height="14.6" stroke-width="3.8"/>
<rect x="1663.1" y="1326.7" width="14.6" height="14.6" stroke-width="3.8"/>
<rect x="1679.9" y="1327.4" width="14.6" height="14.6" stroke-width="3.8"/>
<rect x="1653.3" y="1331.6" width="14.6" height="14.6" stroke-width="3.8"/>
<rect x="1644.9" y="1354.0" width="14.6" height="14.6" stroke-width="3.8"/>
<rect x="1653.3" y="1354.7" width="14.6" height="14.6" stroke-width="3.8"/>
<rect x="1661.7" y="1356.1" width="14.6" height="14.6" stroke-width="3.8"/>
<rect x="1675.7" y="1349.8" width="14.6" height="14.6" stroke-width="3.8"/>
<rect x="1670.8" y="1361.7" width="14.6" height="14.6" stroke-width="3.8"/>
<rect x="1679.9" y="1361.7" width="14.6" height="14.6" stroke-width="3.8"/>
<rect x="1638.6" y="1379.2" width="14.6" height="14.6" stroke-width="3.8"/>
<rect x="1658.2" y="1375.7" width="14.6" height="14.6" stroke-width="3.8"/>
<rect x="1684.1" y="1374.3" width="14.6" height="14.6" stroke-width="3.8"/>
<rect x="1670.7" y="1375.7" width="14.6" height="14.6" stroke-width="3.8"/>
<rect x="1630.2" y="1405.8" width="14.6" height="14.6" stroke-width="3.8"/>
<rect x="1693.2" y="1410.7" width="14.6" height="14.6" stroke-width="3.8"/>
<rect x="1644.2" y="1417.0" width="14.6" height="14.6" stroke-width="3.8"/>
<rect x="1653.3" y="1417.0" width="14.6" height="14.6" stroke-width="3.8"/>
<rect x="1661.7" y="1417.0" width="14.6" height="14.6" stroke-width="3.8"/>
<rect x="1670.8" y="1417.0" width="14.6" height="14.6" stroke-width="3.8"/>
<rect x="1679.9" y="1417.0" width="14.6" height="14.6" stroke-width="3.8"/>
<rect x="1688.3" y="1419.1" width="14.6" height="14.6" stroke-width="3.8"/>
<rect x="1636.5" y="1419.8" width="14.6" height="14.6" stroke-width="3.8"/>
<rect x="1648.4" y="1431.1" width="14.6" height="14.6" stroke-width="3.8"/>
<rect x="1678.5" y="1430.4" width="14.6" height="14.6" stroke-width="3.8"/>
<rect x="1670.7" y="1430.7" width="14.6" height="14.6" stroke-width="3.8"/>
<rect x="1648.4" y="1450.0" width="14.6" height="14.6" stroke-width="3.8"/>
<rect x="1666.6" y="1447.9" width="14.6" height="14.6" stroke-width="3.8"/>
<rect x="1684.8" y="1451.4" width="14.6" height="14.6" stroke-width="3.8"/>
<rect x="1653.3" y="1459.8" width="14.6" height="14.6" stroke-width="3.8"/>
<rect x="1661.7" y="1459.8" width="14.6" height="14.6" stroke-width="3.8"/>
<rect x="1670.8" y="1459.8" width="14.6" height="14.6" stroke-width="3.8"/>
<rect x="1679.9" y="1468.2" width="14.6" height="14.6" stroke-width="3.8"/>
<rect x="1688.3" y="1468.2" width="14.6" height="14.6" stroke-width="3.8"/>
<rect x="1639.3" y="1474.5" width="14.6" height="14.6" stroke-width="3.8"/>
<rect x="1657.5" y="1471.7" width="14.6" height="14.6" stroke-width="3.8"/>
<rect x="1670.8" y="1471.7" width="14.6" height="14.6" stroke-width="3.8"/>
<rect x="1657.5" y="1485.7" width="14.6" height="14.6" stroke-width="3.8"/>
<rect x="1675.7" y="1487.1" width="14.6" height="14.6" stroke-width="3.8"/>
<rect x="1666.6" y="1489.9" width="14.6" height="14.6" stroke-width="3.8"/>
<rect x="1648.4" y="1500.4" width="14.6" height="14.6" stroke-width="3.8"/>
<rect x="1666.6" y="1499.7" width="14.6" height="14.6" stroke-width="3.8"/>
<rect x="1649.1" y="1520.7" width="14.6" height="14.6" stroke-width="3.8"/>
<rect x="1661.7" y="1517.9" width="14.6" height="14.6" stroke-width="3.8"/>
<rect x="1670.8" y="1515.8" width="14.6" height="14.6" stroke-width="3.8"/>
<rect x="1679.9" y="1514.4" width="14.6" height="14.6" stroke-width="3.8"/>
</g>
<path d="M1418.4 1466.0H1463.8M1441.1 1466.0V1476.3M1418.4 1476.3H1463.8" stroke="#1212ee" stroke-width="5.3" fill="none"/>
<path d="M1532.9 1485.7H1575.7M1554.3 1485.7V1495.2M1532.9 1495.2H1575.7" stroke="#1212ee" stroke-width="5.3" fill="none"/>
<path d="M1648.0 1396.6H1692.0M1670.0 1396.6V1416.2M1648.0 1416.2H1692.0" stroke="#1212ee" stroke-width="5.3" fill="none"/>
</svg></body></html>
